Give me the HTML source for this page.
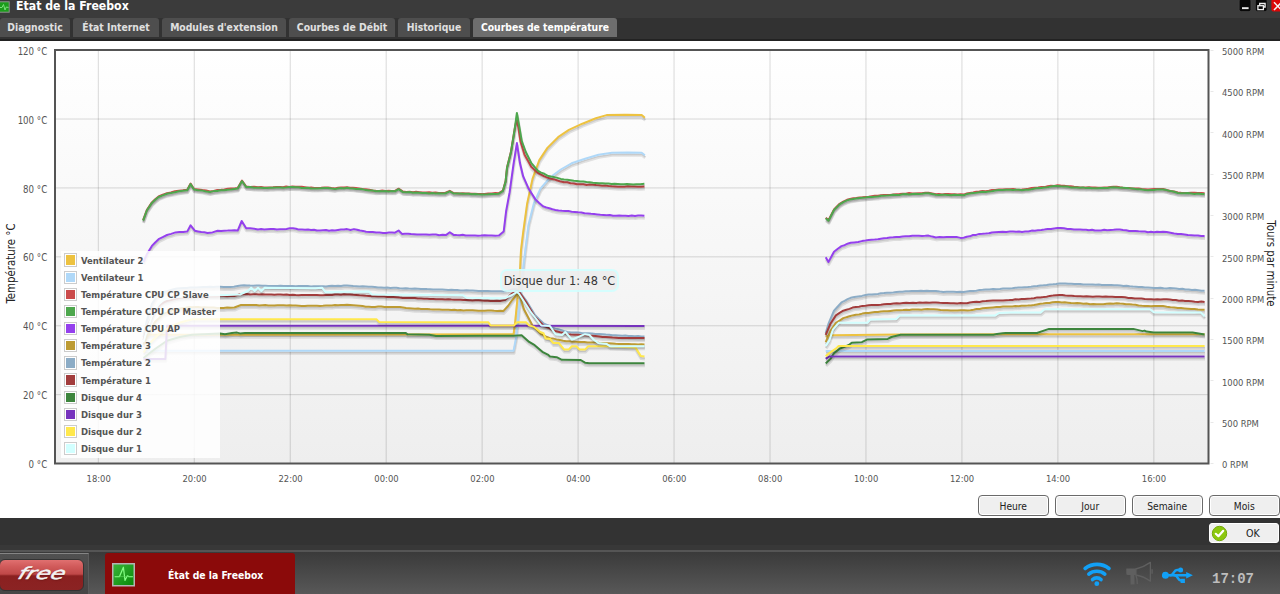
<!DOCTYPE html>
<html lang="fr">
<head>
<meta charset="utf-8">
<title>État de la Freebox</title>
<style>
html,body{margin:0;padding:0;}
body{width:1280px;height:594px;overflow:hidden;position:relative;background:#333;font-family:"Liberation Sans","DejaVu Sans",sans-serif;font-size:11px;}
.abs{position:absolute;}
#titlebar{left:0;top:0;width:1280px;height:18px;background:#3b3b3b;}
#title{left:16px;top:-2px;color:#fff;font-family:"DejaVu Sans Condensed","Liberation Sans",sans-serif;font-weight:bold;font-size:12.2px;line-height:16px;white-space:nowrap;}
#tabbar{left:0;top:18px;width:1280px;height:23px;background:#323232;border-bottom:2px solid #222;box-sizing:border-box;}
.tab{position:absolute;top:18px;height:19px;background:#4e4e4e;color:#e0e0e0;font-family:"DejaVu Sans Condensed","Liberation Sans",sans-serif;font-weight:bold;font-size:10.3px;line-height:18px;text-align:center;border-radius:3px 3px 0 0;white-space:nowrap;}
.tab.on{background:#6e6e6e;color:#fff;}
#content{left:0;top:41px;width:1280px;height:477px;background:#fff;}
#chart{position:absolute;left:0;top:40px;}
#legend{left:61px;top:251px;width:159px;height:207px;background:rgba(255,255,255,0.85);}
#legend table{position:absolute;left:1px;top:0.5px;border-collapse:separate;border-spacing:0;font-family:"DejaVu Sans Condensed","Liberation Sans",sans-serif;font-size:9.45px;font-weight:bold;color:#545454;}
#legend td{padding:0;height:17.15px;vertical-align:middle;white-space:nowrap;}
#legend td.lc{width:17px;padding-left:2px;}
.sw{border:1px solid #ccc;padding:1px;width:9.4px;height:9.4px;background:#fff;}
.sw div{width:9.4px;height:9.4px;}
#tip{left:499.7px;top:268.8px;width:115.5px;height:19.5px;border:2px solid #d2ffff;border-radius:7px;background:#eee;opacity:0.9;color:#222;font-family:"DejaVu Sans Condensed","Liberation Sans",sans-serif;font-size:12.6px;line-height:19.5px;text-align:center;white-space:nowrap;}
.btn{position:absolute;top:495px;height:19px;width:69.5px;border:1px solid #6a6a6a;border-radius:4px;background:#efefef;box-shadow:inset 0 0 0 1px #fff;color:#222;font-family:"DejaVu Sans Condensed","Liberation Sans",sans-serif;font-size:10.2px;line-height:21px;text-align:center;}
#ok{left:1209px;top:523px;width:68px;height:18px;border:1px solid #fff;border-radius:3px;background:#efefef;color:#222;font-family:"DejaVu Sans Condensed","Liberation Sans",sans-serif;font-size:10.6px;line-height:19.5px;}
#sep{left:0;top:550px;width:1280px;height:1.5px;background:#555;}
#taskbar{left:0;top:552px;width:1280px;height:42px;background:linear-gradient(#3a3a3a,#585858);}
#start{left:0;top:553px;width:89px;height:41px;background:linear-gradient(#505050,#464646);border-top:1px solid #858585;border-right:1.5px solid #5c5c5c;box-sizing:border-box;}
#pill{left:-1px;top:558.5px;width:82.5px;height:30px;border:1.5px solid #333;border-radius:6px;background:linear-gradient(#e07070 0%,#d25c5c 20%,#c04848 47%,#8a2020 53%,#8b2323 100%);box-sizing:content-box;}
#free{left:22px;top:559px;width:40px;height:30px;color:#f4f4f4;font-family:"DejaVu Sans","Liberation Sans",sans-serif;font-style:italic;font-weight:normal;font-size:16.5px;line-height:29px;text-align:center;transform:scaleX(1.42) skewX(-14deg);-webkit-text-stroke:0.45px #f4f4f4;text-shadow:0.5px 1px 1px rgba(60,0,0,.55);}
#task{left:105px;top:553px;width:190px;height:41px;background:#8b0a0a;border-radius:3px 3px 0 0;}
#tasktxt{left:168px;top:567px;color:#fff;font-family:"DejaVu Sans Condensed","Liberation Sans",sans-serif;font-weight:bold;font-size:10.3px;line-height:16px;white-space:nowrap;}
#clock{left:1212px;top:569.5px;color:#bdbdbd;font-family:"Liberation Mono",monospace;font-weight:bold;font-size:14px;line-height:18px;}
</style>
</head>
<body>
<div id="titlebar" class="abs"></div>
<svg class="abs" style="left:0;top:1px" width="11" height="12" viewBox="0 0 11 12"><rect x="-15" y="0.8" width="24.2" height="10.4" fill="#1b9c1b" stroke="#8f8f8f" stroke-width="1"/><path d="M-2 6.5 L2 6.5 L3.5 3.5 L5 9 L6.3 6 L8.5 6.5" stroke="#7be07b" stroke-width="1" fill="none"/></svg>
<div id="title" class="abs">État de la Freebox</div>
<svg class="abs" style="left:1238px;top:0" width="42" height="13" viewBox="0 0 42 13">
<rect x="1.2" y="-1" width="11.7" height="12.6" rx="2" fill="#080808" stroke="#4a4a4a" stroke-width="0.6"/><rect x="4" y="7.2" width="6.6" height="1.9" fill="#e8e8e8"/>
<rect x="17.4" y="-1" width="11.7" height="12.6" rx="2" fill="#080808" stroke="#4a4a4a" stroke-width="0.6"/><path d="M21.7 5.2 V3.5 H27.1 V7 H25.8" stroke="#f0f0f0" stroke-width="1.3" fill="none"/><rect x="19.9" y="5.7" width="5.5" height="3.9" stroke="#f0f0f0" stroke-width="1.3" fill="none"/>
<rect x="33.4" y="-1" width="12" height="12.6" rx="2" fill="#dc0808"/><path d="M36 2.3 L43.5 10 M43.5 2.3 L36 10" stroke="#f4f4f4" stroke-width="1.5"/>
</svg>
<div id="tabbar" class="abs"></div>
<div class="tab" style="left:0;width:70px">Diagnostic</div>
<div class="tab" style="left:73px;width:86px">État Internet</div>
<div class="tab" style="left:162px;width:124px">Modules d'extension</div>
<div class="tab" style="left:289px;width:106px">Courbes de Débit</div>
<div class="tab" style="left:398px;width:72px">Historique</div>
<div class="tab on" style="left:473px;width:144px">Courbes de température</div>
<div id="content" class="abs"></div>
<svg id="chart" width="1280" height="478" viewBox="0 40 1280 478">
<defs><linearGradient id="pbg" x1="0" y1="0" x2="0" y2="1"><stop offset="0" stop-color="#ffffff"/><stop offset="1" stop-color="#eeeeee"/></linearGradient></defs>
<rect x="55" y="50" width="1153.5" height="413.5" fill="url(#pbg)"/>
<path d="M98.30 50 V463.5 M194.26 50 V463.5 M290.22 50 V463.5 M386.18 50 V463.5 M482.14 50 V463.5 M578.10 50 V463.5 M674.06 50 V463.5 M770.02 50 V463.5 M865.98 50 V463.5 M961.94 50 V463.5 M1057.90 50 V463.5 M1153.86 50 V463.5 M55 394.68 H1208.5 M55 325.77 H1208.5 M55 256.85 H1208.5 M55 187.93 H1208.5 M55 119.02 H1208.5" stroke="#000" stroke-opacity="0.15" stroke-width="1" fill="none"/>
<path d="M1210.5 463.5 h3 M1210.5 422.5 h3 M1210.5 380.5 h3 M1210.5 339.5 h3 M1210.5 298.5 h3 M1210.5 256.5 h3 M1210.5 215.5 h3 M1210.5 174.5 h3 M1210.5 132.5 h3 M1210.5 91.5 h3 M1210.5 50.5 h3" stroke="#000" stroke-opacity="0.09" stroke-width="1" fill="none"/>
<g fill="none" stroke-linejoin="round" stroke-linecap="butt">
<path d="M143.9 338.1 L150.4 337.3 L514.0 336.7 L515.7 323.0 L518.2 297.5 L519.8 285.3 L521.4 252.5 L523.5 235.3 L527.6 205.7 L532.9 181.4 L539.7 162.6 L547.8 150.4 L558.5 139.7 L569.3 132.4 L582.8 126.2 L596.3 120.8 L607.0 117.6 L625.9 117.3 L642.1 117.6 L645.3 120.3 M826.1 339.0 L832.6 337.7 L899.3 336.9 L1010.4 336.8 L1205.0 336.8" stroke="#000" stroke-opacity="0.1" stroke-width="3"/>
<path d="M143.8 337.3 L150.3 336.5 L513.9 335.9 L515.6 322.2 L518.1 296.7 L519.7 284.5 L521.3 251.7 L523.4 234.5 L527.5 204.9 L532.8 180.6 L539.6 161.8 L547.7 149.6 L558.4 138.9 L569.2 131.6 L582.7 125.4 L596.2 120.0 L606.9 116.8 L625.8 116.5 L642.0 116.8 L645.2 119.5 M826.0 338.2 L832.5 336.9 L899.2 336.1 L1010.3 336.0 L1204.9 336.0" stroke="#000" stroke-opacity="0.1" stroke-width="1.5"/>
<path d="M143.5 335.6 L150.0 334.8 L513.6 334.2 L515.3 320.5 L517.8 295.0 L519.4 282.8 L521.0 250.0 L523.1 232.8 L527.2 203.2 L532.5 178.9 L539.3 160.1 L547.4 147.9 L558.1 137.2 L568.9 129.9 L582.4 123.7 L595.9 118.3 L606.6 115.1 L625.5 114.8 L641.7 115.1 L644.9 117.8 M825.7 336.5 L832.2 335.2 L898.9 334.4 L1010.0 334.3 L1204.6 334.3" stroke="#edc240" stroke-width="2"/>
<path d="M143.9 353.3 L514.0 353.2 L516.5 340.0 L520.9 296.3 L524.2 265.5 L525.7 252.5 L528.9 227.2 L534.3 205.7 L541.0 190.9 L550.4 180.1 L561.2 172.0 L572.0 165.8 L585.5 161.2 L598.9 157.2 L612.4 155.3 L628.6 155.0 L642.1 155.3 L645.3 157.7 M826.1 353.4 L1205.0 353.4" stroke="#000" stroke-opacity="0.1" stroke-width="3"/>
<path d="M143.8 352.5 L513.9 352.4 L516.4 339.2 L520.8 295.5 L524.1 264.7 L525.6 251.7 L528.8 226.4 L534.2 204.9 L540.9 190.1 L550.3 179.3 L561.1 171.2 L571.9 165.0 L585.4 160.4 L598.8 156.4 L612.3 154.5 L628.5 154.2 L642.0 154.5 L645.2 156.9 M826.0 352.6 L1204.9 352.6" stroke="#000" stroke-opacity="0.1" stroke-width="1.5"/>
<path d="M143.5 350.8 L513.6 350.7 L516.1 337.5 L520.5 293.8 L523.8 263.0 L525.3 250.0 L528.5 224.7 L533.9 203.2 L540.6 188.4 L550.0 177.6 L560.8 169.5 L571.6 163.3 L585.1 158.7 L598.5 154.7 L612.0 152.8 L628.2 152.5 L641.7 152.8 L644.9 155.2 M825.7 350.9 L1204.6 350.9" stroke="#afd8f8" stroke-width="2"/>
<path d="M143.5 222.6 L147.2 212.5 L152.3 204.9 L155.7 201.8 L159.0 199.0 L163.2 197.1 L167.4 195.7 L171.4 194.9 L175.3 193.7 L179.2 193.2 L183.4 192.7 L187.6 192.3 L191.0 186.1 L194.4 191.5 L198.6 191.9 L202.8 192.6 L206.6 193.0 L210.4 194.0 L214.1 193.4 L217.8 192.5 L221.4 192.3 L224.8 191.9 L228.1 191.3 L231.5 191.0 L234.8 190.8 L238.1 190.6 L242.4 183.0 L246.6 189.0 L250.6 189.5 L254.5 189.2 L258.4 189.8 L261.4 189.6 L264.4 189.9 L267.4 190.1 L270.4 189.8 L273.4 189.8 L276.9 189.5 L280.4 189.5 L283.5 189.7 L286.6 189.0 L289.7 189.5 L292.8 189.1 L295.9 189.2 L299.1 189.1 L302.2 189.3 L305.4 189.6 L308.5 190.2 L311.7 189.9 L314.8 190.4 L318.2 190.3 L321.6 190.3 L325.0 190.0 L328.4 190.0 L331.9 190.4 L335.4 190.9 L338.4 190.3 L341.4 190.0 L344.4 189.8 L347.4 189.8 L350.4 190.2 L353.4 190.3 L356.4 190.5 L359.4 190.9 L362.8 191.4 L366.2 191.8 L369.6 192.2 L373.0 193.0 L376.4 193.3 L379.6 193.4 L382.8 193.1 L385.9 193.3 L389.1 193.3 L392.3 193.5 L395.4 193.3 L399.0 191.2 L403.4 194.1 L406.7 194.4 L410.0 194.2 L413.3 194.8 L416.6 194.3 L419.9 194.6 L423.1 195.0 L426.4 195.0 L429.6 194.8 L432.8 195.1 L435.9 194.9 L439.1 195.4 L442.3 195.6 L445.4 195.5 L450.2 193.3 L454.0 195.5 L457.1 195.6 L460.1 195.9 L463.2 195.6 L466.2 196.0 L469.3 196.0 L472.3 196.1 L475.3 196.1 L478.4 196.5 L481.4 196.4 L485.0 196.5 L488.6 196.1 L492.2 196.1 L495.8 195.5 L499.3 195.7 L503.3 193.0 L506.0 183.6 L507.4 170.0 L511.4 154.0 L514.9 132.4 L517.3 120.8 L520.8 143.7 L524.9 157.2 L528.3 163.2 L531.6 169.3 L535.0 172.5 L538.4 175.5 L541.6 177.1 L544.7 178.9 L547.8 180.1 L551.2 181.3 L554.5 181.9 L557.9 183.0 L561.2 184.1 L564.5 184.7 L567.7 184.8 L571.0 185.7 L574.2 186.0 L577.4 186.8 L580.6 186.6 L583.7 186.7 L586.9 187.3 L590.0 187.0 L593.2 187.3 L596.3 187.6 L599.5 187.7 L602.6 188.3 L605.7 188.0 L608.9 188.5 L612.0 188.8 L615.1 189.0 L618.4 189.2 L621.7 189.2 L625.0 189.2 L628.3 188.8 L631.6 188.9 L634.9 188.9 L638.2 189.2 L641.5 189.3 L644.8 189.0 M826.1 220.2 L828.9 222.6 L834.4 211.9 L840.0 206.3 L843.7 204.0 L847.4 202.3 L850.5 201.4 L853.6 200.8 L856.7 200.4 L859.8 199.9 L862.9 199.8 L866.0 199.5 L869.1 199.2 L872.2 198.7 L875.2 198.2 L878.3 198.1 L881.4 197.8 L884.4 197.6 L887.5 197.4 L890.6 197.4 L893.7 197.0 L896.8 196.6 L899.9 196.5 L903.0 196.2 L906.3 196.2 L909.5 195.6 L912.7 196.1 L916.0 195.9 L919.2 195.8 L922.5 195.6 L925.7 195.2 L928.9 195.2 L932.6 195.8 L936.3 196.7 L939.4 196.4 L942.5 196.8 L945.6 196.5 L948.7 196.5 L951.8 196.7 L954.9 196.7 L958.0 196.9 L961.0 196.7 L964.1 197.1 L967.2 196.0 L970.3 195.4 L973.4 194.9 L976.6 194.2 L979.8 194.1 L982.9 193.5 L986.1 193.8 L989.3 193.2 L992.5 192.6 L995.6 192.5 L999.3 192.1 L1003.0 192.0 L1006.7 191.8 L1010.4 191.7 L1013.4 191.5 L1016.4 192.1 L1019.4 192.3 L1022.4 192.1 L1025.7 191.6 L1028.9 191.3 L1032.1 190.6 L1035.3 190.2 L1038.5 190.0 L1041.7 189.6 L1045.0 189.6 L1048.2 188.7 L1051.4 188.2 L1054.6 188.5 L1057.8 187.8 L1061.2 188.1 L1064.5 188.1 L1067.8 188.7 L1071.1 188.6 L1074.4 189.3 L1077.4 189.4 L1080.4 189.8 L1083.4 189.9 L1086.4 189.8 L1089.4 189.7 L1092.4 189.8 L1095.4 189.8 L1098.4 190.2 L1101.6 190.2 L1104.7 189.9 L1107.8 189.9 L1110.9 189.4 L1114.0 189.2 L1117.1 189.3 L1120.3 189.8 L1123.4 190.2 L1126.5 190.3 L1129.7 190.6 L1132.8 190.9 L1135.9 191.1 L1139.0 191.0 L1142.2 191.5 L1145.3 191.7 L1148.4 192.1 L1151.4 191.6 L1154.4 191.5 L1157.4 191.5 L1160.4 191.4 L1163.4 191.5 L1167.1 192.4 L1170.8 193.5 L1174.5 194.0 L1178.2 194.9 L1181.6 195.3 L1184.9 195.4 L1188.3 195.5 L1191.6 195.2 L1195.0 195.2 L1198.3 195.3 L1201.7 195.4 L1205.0 195.8" stroke="#000" stroke-opacity="0.1" stroke-width="3"/>
<path d="M143.4 221.8 L147.1 211.7 L152.2 204.1 L155.6 201.1 L158.9 198.2 L163.1 196.3 L167.3 194.9 L171.2 194.2 L175.2 193.0 L179.1 192.4 L183.3 192.0 L187.5 191.5 L190.9 185.3 L194.3 190.7 L198.5 191.2 L202.7 191.8 L206.5 192.2 L210.3 193.2 L214.0 192.7 L217.6 191.8 L221.3 191.5 L224.6 191.1 L228.0 190.5 L231.3 190.2 L234.7 190.1 L238.0 189.8 L242.3 182.2 L246.5 188.2 L250.4 188.7 L254.4 188.5 L258.3 189.0 L261.3 188.8 L264.3 189.1 L267.3 189.3 L270.3 189.1 L273.3 189.0 L276.8 188.8 L280.3 188.7 L283.4 189.0 L286.5 188.3 L289.6 188.8 L292.7 188.3 L295.8 188.4 L299.0 188.4 L302.1 188.6 L305.3 188.9 L308.4 189.4 L311.6 189.2 L314.7 189.6 L318.1 189.6 L321.5 189.5 L324.9 189.2 L328.3 189.2 L331.8 189.7 L335.3 190.1 L338.3 189.5 L341.3 189.3 L344.3 189.1 L347.3 189.0 L350.3 189.4 L353.3 189.5 L356.3 189.7 L359.3 190.1 L362.7 190.7 L366.1 191.1 L369.5 191.4 L372.9 192.2 L376.3 192.5 L379.5 192.7 L382.6 192.3 L385.8 192.6 L389.0 192.5 L392.1 192.8 L395.3 192.5 L398.9 190.4 L403.3 193.3 L406.6 193.6 L409.9 193.4 L413.2 194.0 L416.4 193.6 L419.7 193.9 L423.0 194.3 L426.3 194.2 L429.5 194.1 L432.6 194.4 L435.8 194.2 L439.0 194.7 L442.1 194.8 L445.3 194.7 L450.1 192.5 L453.9 194.7 L456.9 194.9 L460.0 195.2 L463.0 194.9 L466.1 195.3 L469.1 195.3 L472.2 195.4 L475.2 195.4 L478.3 195.8 L481.3 195.6 L484.9 195.8 L488.5 195.3 L492.0 195.3 L495.6 194.8 L499.2 194.9 L503.2 192.2 L505.9 182.8 L507.3 169.2 L511.3 153.2 L514.8 131.6 L517.2 120.0 L520.7 142.9 L524.8 156.4 L528.2 162.5 L531.5 168.5 L534.9 171.8 L538.3 174.7 L541.4 176.4 L544.6 178.1 L547.7 179.3 L551.1 180.5 L554.4 181.2 L557.8 182.2 L561.1 183.3 L564.3 184.0 L567.6 184.1 L570.8 184.9 L574.1 185.3 L577.3 186.0 L580.5 185.9 L583.6 186.0 L586.8 186.6 L589.9 186.3 L593.1 186.5 L596.2 186.8 L599.3 187.0 L602.5 187.6 L605.6 187.2 L608.7 187.7 L611.9 188.0 L615.0 188.2 L618.3 188.5 L621.6 188.4 L624.9 188.5 L628.2 188.1 L631.5 188.2 L634.8 188.1 L638.1 188.5 L641.4 188.5 L644.7 188.2 M826.0 219.4 L828.8 221.8 L834.3 211.1 L839.9 205.5 L843.6 203.3 L847.3 201.5 L850.4 200.7 L853.5 200.1 L856.6 199.6 L859.7 199.1 L862.8 199.0 L865.9 198.7 L869.0 198.5 L872.0 197.9 L875.1 197.4 L878.2 197.4 L881.2 197.0 L884.3 196.8 L887.4 196.6 L890.5 196.7 L893.6 196.3 L896.7 195.9 L899.8 195.7 L902.9 195.4 L906.1 195.4 L909.4 194.9 L912.6 195.3 L915.9 195.1 L919.1 195.1 L922.3 194.9 L925.6 194.5 L928.8 194.4 L932.5 195.1 L936.2 195.9 L939.3 195.7 L942.4 196.1 L945.5 195.8 L948.6 195.8 L951.6 195.9 L954.7 196.0 L957.8 196.1 L960.9 196.0 L964.0 196.3 L967.1 195.2 L970.2 194.6 L973.3 194.1 L976.5 193.5 L979.6 193.3 L982.8 192.8 L986.0 193.0 L989.2 192.5 L992.3 191.8 L995.5 191.7 L999.2 191.3 L1002.9 191.2 L1006.6 191.0 L1010.3 190.9 L1013.3 190.8 L1016.3 191.4 L1019.3 191.6 L1022.3 191.3 L1025.5 190.9 L1028.7 190.5 L1032.0 189.9 L1035.2 189.5 L1038.4 189.3 L1041.6 188.8 L1044.8 188.8 L1048.0 188.0 L1051.3 187.5 L1054.5 187.7 L1057.7 187.0 L1061.0 187.3 L1064.3 187.4 L1067.7 188.0 L1071.0 187.9 L1074.3 188.5 L1077.3 188.7 L1080.3 189.1 L1083.3 189.1 L1086.3 189.1 L1089.3 188.9 L1092.3 189.1 L1095.3 189.1 L1098.3 189.4 L1101.4 189.5 L1104.5 189.1 L1107.7 189.2 L1110.8 188.7 L1113.9 188.5 L1117.0 188.5 L1120.1 189.0 L1123.3 189.4 L1126.4 189.6 L1129.5 189.9 L1132.7 190.1 L1135.8 190.4 L1138.9 190.3 L1142.0 190.8 L1145.2 190.9 L1148.3 191.3 L1151.3 190.9 L1154.3 190.8 L1157.3 190.8 L1160.3 190.7 L1163.3 190.7 L1167.0 191.7 L1170.7 192.7 L1174.4 193.2 L1178.1 194.1 L1181.5 194.5 L1184.8 194.7 L1188.2 194.8 L1191.5 194.5 L1194.9 194.5 L1198.2 194.6 L1201.6 194.7 L1204.9 195.0" stroke="#000" stroke-opacity="0.1" stroke-width="1.5"/>
<path d="M143.1 220.1 L146.8 210.0 L151.9 202.4 L155.2 199.3 L158.6 196.5 L162.8 194.6 L167.0 193.2 L170.9 192.5 L174.9 191.2 L178.8 190.7 L183.0 190.3 L187.2 189.8 L190.6 183.6 L194.0 189.0 L198.2 189.5 L202.4 190.1 L206.2 190.5 L210.0 191.5 L213.7 190.9 L217.3 190.0 L221.0 189.8 L224.3 189.4 L227.7 188.8 L231.0 188.5 L234.4 188.4 L237.7 188.1 L242.0 180.5 L246.2 186.5 L250.1 187.0 L254.1 186.8 L258.0 187.3 L261.0 187.1 L264.0 187.4 L267.0 187.6 L270.0 187.4 L273.0 187.3 L276.5 187.1 L280.0 187.0 L283.1 187.3 L286.2 186.6 L289.3 187.1 L292.4 186.6 L295.5 186.7 L298.6 186.7 L301.8 186.8 L304.9 187.2 L308.1 187.7 L311.2 187.5 L314.4 187.9 L317.8 187.9 L321.2 187.8 L324.6 187.5 L328.0 187.5 L331.5 188.0 L335.0 188.4 L338.0 187.8 L341.0 187.5 L344.0 187.4 L347.0 187.3 L350.0 187.7 L353.0 187.8 L356.0 188.0 L359.0 188.4 L362.4 188.9 L365.8 189.3 L369.2 189.7 L372.6 190.5 L376.0 190.8 L379.2 190.9 L382.3 190.6 L385.5 190.9 L388.7 190.8 L391.8 191.1 L395.0 190.8 L398.6 188.7 L403.0 191.6 L406.3 191.9 L409.6 191.7 L412.9 192.3 L416.1 191.8 L419.4 192.2 L422.7 192.6 L426.0 192.5 L429.2 192.3 L432.3 192.7 L435.5 192.4 L438.7 193.0 L441.8 193.1 L445.0 193.0 L449.8 190.8 L453.6 193.0 L456.6 193.2 L459.7 193.5 L462.7 193.2 L465.8 193.5 L468.8 193.6 L471.9 193.7 L474.9 193.7 L478.0 194.0 L481.0 193.9 L484.6 194.1 L488.2 193.6 L491.7 193.6 L495.3 193.0 L498.9 193.2 L502.9 190.5 L505.6 181.1 L507.0 167.5 L511.0 151.5 L514.5 129.9 L516.9 118.3 L520.4 141.2 L524.5 154.7 L527.9 160.8 L531.2 166.8 L534.6 170.0 L538.0 173.0 L541.1 174.6 L544.3 176.4 L547.4 177.6 L550.8 178.8 L554.1 179.4 L557.4 180.5 L560.8 181.6 L564.0 182.3 L567.3 182.3 L570.5 183.2 L573.8 183.5 L577.0 184.3 L580.1 184.2 L583.3 184.3 L586.5 184.9 L589.6 184.6 L592.8 184.8 L595.9 185.1 L599.0 185.3 L602.2 185.8 L605.3 185.5 L608.4 186.0 L611.6 186.3 L614.7 186.5 L618.0 186.8 L621.3 186.7 L624.6 186.8 L627.9 186.3 L631.2 186.4 L634.5 186.4 L637.8 186.8 L641.1 186.8 L644.4 186.5 M825.7 217.7 L828.5 220.1 L834.0 209.4 L839.6 203.8 L843.3 201.6 L847.0 199.8 L850.1 198.9 L853.2 198.3 L856.3 197.9 L859.4 197.4 L862.5 197.3 L865.6 197.0 L868.7 196.7 L871.7 196.2 L874.8 195.7 L877.9 195.7 L880.9 195.3 L884.0 195.1 L887.1 194.9 L890.2 195.0 L893.3 194.5 L896.4 194.2 L899.5 194.0 L902.6 193.7 L905.8 193.7 L909.1 193.1 L912.3 193.6 L915.5 193.4 L918.8 193.3 L922.0 193.2 L925.3 192.7 L928.5 192.7 L932.2 193.4 L935.9 194.2 L939.0 194.0 L942.1 194.4 L945.2 194.0 L948.3 194.1 L951.3 194.2 L954.4 194.2 L957.5 194.4 L960.6 194.2 L963.7 194.6 L966.8 193.5 L969.9 192.9 L973.0 192.4 L976.2 191.8 L979.3 191.6 L982.5 191.0 L985.7 191.3 L988.9 190.8 L992.0 190.1 L995.2 190.0 L998.9 189.6 L1002.6 189.5 L1006.3 189.3 L1010.0 189.2 L1013.0 189.0 L1016.0 189.6 L1019.0 189.8 L1022.0 189.6 L1025.2 189.2 L1028.4 188.8 L1031.7 188.1 L1034.9 187.8 L1038.1 187.5 L1041.3 187.1 L1044.5 187.1 L1047.7 186.2 L1051.0 185.7 L1054.2 186.0 L1057.4 185.3 L1060.7 185.6 L1064.0 185.7 L1067.4 186.2 L1070.7 186.2 L1074.0 186.8 L1077.0 186.9 L1080.0 187.4 L1083.0 187.4 L1086.0 187.4 L1089.0 187.2 L1092.0 187.4 L1095.0 187.4 L1098.0 187.7 L1101.1 187.7 L1104.2 187.4 L1107.3 187.4 L1110.5 187.0 L1113.6 186.8 L1116.7 186.8 L1119.8 187.3 L1123.0 187.7 L1126.1 187.9 L1129.2 188.1 L1132.3 188.4 L1135.5 188.6 L1138.6 188.6 L1141.7 189.1 L1144.9 189.2 L1148.0 189.6 L1151.0 189.2 L1154.0 189.0 L1157.0 189.1 L1160.0 189.0 L1163.0 189.0 L1166.7 190.0 L1170.4 191.0 L1174.1 191.5 L1177.8 192.4 L1181.1 192.8 L1184.5 193.0 L1187.8 193.1 L1191.2 192.8 L1194.5 192.8 L1197.9 192.9 L1201.2 193.0 L1204.6 193.3" stroke="#cb4b4b" stroke-width="2"/>
<path d="M143.5 223.1 L147.2 213.0 L152.3 205.4 L155.7 202.2 L159.0 199.5 L163.2 197.9 L167.4 196.2 L171.4 195.6 L175.3 194.7 L179.2 193.7 L183.4 193.2 L187.6 192.8 L191.0 186.6 L194.4 192.0 L198.6 192.6 L202.8 193.1 L206.6 194.0 L210.4 194.5 L214.1 193.6 L217.8 193.4 L221.4 192.8 L224.8 192.7 L228.1 192.3 L231.5 191.9 L234.8 191.4 L238.1 191.1 L242.4 183.5 L246.6 189.5 L250.6 189.5 L254.5 190.2 L258.4 190.3 L261.4 190.1 L264.4 190.5 L267.4 190.6 L270.4 190.2 L273.4 190.3 L276.9 190.0 L280.4 190.0 L283.5 190.2 L286.6 190.0 L289.7 189.6 L292.8 189.5 L295.9 189.7 L299.1 189.6 L302.2 190.3 L305.4 190.5 L308.5 190.2 L311.7 190.9 L314.8 190.9 L318.2 191.1 L321.6 190.8 L325.0 190.5 L328.4 190.5 L331.9 190.9 L335.4 191.4 L338.4 190.8 L341.4 190.5 L344.4 190.9 L347.4 190.3 L350.4 190.6 L353.4 190.8 L356.4 191.4 L359.4 191.4 L362.8 191.8 L366.2 192.6 L369.6 193.0 L373.0 193.1 L376.4 193.8 L379.6 193.6 L382.8 193.6 L385.9 193.6 L389.1 193.8 L392.3 193.6 L395.4 193.8 L399.0 191.7 L403.4 194.6 L406.7 194.6 L410.0 194.6 L413.3 195.2 L416.6 195.0 L419.9 195.2 L423.1 195.4 L426.4 195.5 L429.6 195.8 L432.8 195.6 L435.9 196.0 L439.1 195.8 L442.3 195.9 L445.4 196.0 L450.2 193.8 L454.0 196.0 L457.1 196.1 L460.1 195.8 L463.2 196.2 L466.2 196.1 L469.3 196.1 L472.3 196.8 L475.3 196.4 L478.4 196.7 L481.4 196.9 L485.0 196.9 L488.6 196.6 L492.2 196.3 L495.8 196.3 L499.3 196.2 L503.3 193.5 L506.0 184.1 L507.4 170.5 L511.4 154.5 L514.9 132.9 L517.3 115.4 L519.4 127.5 L522.2 143.7 L526.2 154.5 L531.6 165.3 L535.0 169.3 L538.4 173.3 L541.6 175.1 L544.7 176.3 L547.8 178.2 L551.2 179.0 L554.5 179.6 L557.9 180.4 L561.2 181.4 L564.5 182.0 L567.7 182.2 L571.0 182.7 L574.2 183.2 L577.4 183.5 L580.6 184.1 L583.7 184.1 L586.9 184.5 L590.0 184.8 L593.2 185.1 L596.3 185.5 L599.5 185.7 L602.6 185.7 L605.7 185.9 L608.9 186.0 L612.0 186.4 L615.1 186.3 L618.2 186.5 L621.3 186.7 L624.4 186.8 L627.5 186.4 L630.6 186.7 L633.6 187.0 L636.7 186.8 L640.8 186.8 L644.8 186.3 M826.1 220.8 L828.9 223.2 L834.4 212.5 L840.0 206.9 L843.7 204.6 L847.4 202.9 L850.5 202.0 L853.6 201.6 L856.7 201.0 L859.8 200.4 L862.9 200.2 L866.0 200.1 L869.1 199.4 L872.2 199.5 L875.2 199.3 L878.3 199.1 L881.4 198.2 L884.4 198.2 L887.5 198.1 L890.6 197.8 L893.7 197.2 L896.8 197.5 L899.9 197.3 L903.0 196.8 L906.3 196.4 L909.5 196.8 L912.7 196.3 L916.0 196.3 L919.2 196.5 L922.5 196.2 L925.7 195.7 L928.9 195.8 L932.6 196.5 L936.3 197.3 L939.4 197.3 L942.5 197.2 L945.6 197.2 L948.7 197.3 L951.8 197.6 L954.9 197.2 L958.0 197.6 L961.0 197.6 L964.1 197.7 L967.2 196.6 L970.3 196.1 L973.4 195.5 L976.6 195.2 L979.8 194.8 L982.9 194.1 L986.1 194.4 L989.3 193.9 L992.5 193.7 L995.6 193.1 L999.3 192.6 L1003.0 192.5 L1006.7 192.1 L1010.4 192.3 L1013.4 192.6 L1016.4 192.3 L1019.4 192.3 L1022.4 192.7 L1025.7 192.2 L1028.9 192.2 L1032.1 191.7 L1035.3 190.9 L1038.5 190.5 L1041.7 190.6 L1045.0 190.0 L1048.2 189.7 L1051.4 188.9 L1054.6 188.4 L1057.8 188.4 L1061.2 188.8 L1064.5 188.9 L1067.8 189.0 L1071.1 189.9 L1074.4 189.9 L1077.4 190.1 L1080.4 190.3 L1083.4 189.9 L1086.4 190.6 L1089.4 190.1 L1092.4 190.8 L1095.4 190.6 L1098.4 190.8 L1101.6 190.5 L1104.7 190.5 L1107.8 190.6 L1110.9 190.0 L1114.0 189.8 L1117.1 189.9 L1120.3 190.2 L1123.4 190.2 L1126.5 190.4 L1129.7 190.7 L1132.8 190.9 L1135.9 191.3 L1139.0 191.7 L1142.2 192.0 L1145.3 192.6 L1148.4 192.7 L1151.4 192.4 L1154.4 192.4 L1157.4 192.1 L1160.4 192.1 L1163.4 192.1 L1167.1 192.6 L1170.8 193.6 L1174.5 194.3 L1178.2 195.5 L1181.6 195.7 L1184.9 195.7 L1188.3 195.6 L1191.6 195.9 L1195.0 196.3 L1198.3 195.9 L1201.7 196.5 L1205.0 196.4" stroke="#000" stroke-opacity="0.1" stroke-width="3"/>
<path d="M143.4 222.3 L147.1 212.2 L152.2 204.6 L155.6 201.5 L158.9 198.7 L163.1 197.2 L167.3 195.4 L171.2 194.9 L175.2 194.0 L179.1 192.9 L183.3 192.5 L187.5 192.0 L190.9 185.8 L194.3 191.2 L198.5 191.9 L202.7 192.3 L206.5 193.2 L210.3 193.7 L214.0 192.9 L217.6 192.7 L221.3 192.0 L224.6 192.0 L228.0 191.5 L231.3 191.2 L234.7 190.6 L238.0 190.3 L242.3 182.7 L246.5 188.7 L250.4 188.8 L254.4 189.5 L258.3 189.5 L261.3 189.4 L264.3 189.7 L267.3 189.9 L270.3 189.5 L273.3 189.5 L276.8 189.3 L280.3 189.2 L283.4 189.5 L286.5 189.3 L289.6 188.8 L292.7 188.7 L295.8 188.9 L299.0 188.9 L302.1 189.6 L305.3 189.7 L308.4 189.5 L311.6 190.2 L314.7 190.1 L318.1 190.4 L321.5 190.0 L324.9 189.7 L328.3 189.7 L331.8 190.2 L335.3 190.6 L338.3 190.1 L341.3 189.7 L344.3 190.1 L347.3 189.5 L350.3 189.9 L353.3 190.1 L356.3 190.7 L359.3 190.6 L362.7 191.1 L366.1 191.8 L369.5 192.3 L372.9 192.3 L376.3 193.0 L379.5 192.8 L382.6 192.9 L385.8 192.8 L389.0 193.1 L392.1 192.9 L395.3 193.0 L398.9 190.9 L403.3 193.8 L406.6 193.9 L409.9 193.8 L413.2 194.5 L416.4 194.2 L419.7 194.4 L423.0 194.7 L426.3 194.7 L429.5 195.1 L432.6 194.8 L435.8 195.3 L439.0 195.1 L442.1 195.2 L445.3 195.2 L450.1 193.0 L453.9 195.2 L456.9 195.3 L460.0 195.1 L463.0 195.5 L466.1 195.4 L469.1 195.4 L472.2 196.0 L475.2 195.7 L478.3 196.0 L481.3 196.1 L484.9 196.1 L488.5 195.9 L492.0 195.6 L495.6 195.6 L499.2 195.4 L503.2 192.7 L505.9 183.3 L507.3 169.7 L511.3 153.7 L514.8 132.1 L517.2 114.6 L519.3 126.7 L522.1 142.9 L526.1 153.7 L531.5 164.5 L534.9 168.6 L538.3 172.5 L541.4 174.4 L544.6 175.5 L547.7 177.4 L551.1 178.3 L554.4 178.8 L557.8 179.7 L561.1 180.6 L564.3 181.2 L567.6 181.5 L570.8 181.9 L574.1 182.5 L577.3 182.7 L580.5 183.3 L583.6 183.4 L586.8 183.8 L589.9 184.1 L593.1 184.4 L596.2 184.7 L599.3 185.0 L602.5 185.0 L605.6 185.1 L608.7 185.2 L611.9 185.7 L615.0 185.5 L618.1 185.7 L621.2 185.9 L624.3 186.0 L627.3 185.6 L630.4 185.9 L633.5 186.3 L636.6 186.0 L640.7 186.0 L644.7 185.5 M826.0 220.0 L828.8 222.4 L834.3 211.7 L839.9 206.1 L843.6 203.9 L847.3 202.1 L850.4 201.2 L853.5 200.8 L856.6 200.2 L859.7 199.6 L862.8 199.4 L865.9 199.3 L869.0 198.7 L872.0 198.8 L875.1 198.6 L878.2 198.3 L881.2 197.5 L884.3 197.4 L887.4 197.3 L890.5 197.1 L893.6 196.5 L896.7 196.8 L899.8 196.6 L902.9 196.0 L906.1 195.7 L909.4 196.1 L912.6 195.6 L915.9 195.5 L919.1 195.7 L922.3 195.5 L925.6 194.9 L928.8 195.0 L932.5 195.7 L936.2 196.5 L939.3 196.6 L942.4 196.5 L945.5 196.4 L948.6 196.6 L951.6 196.9 L954.7 196.5 L957.8 196.9 L960.9 196.8 L964.0 196.9 L967.1 195.9 L970.2 195.3 L973.3 194.7 L976.5 194.5 L979.6 194.0 L982.8 193.4 L986.0 193.7 L989.2 193.2 L992.3 193.0 L995.5 192.3 L999.2 191.8 L1002.9 191.8 L1006.6 191.4 L1010.3 191.5 L1013.3 191.8 L1016.3 191.6 L1019.3 191.6 L1022.3 191.9 L1025.5 191.5 L1028.7 191.4 L1032.0 191.0 L1035.2 190.2 L1038.4 189.7 L1041.6 189.9 L1044.8 189.2 L1048.0 188.9 L1051.3 188.1 L1054.5 187.7 L1057.7 187.6 L1061.0 188.1 L1064.3 188.2 L1067.7 188.2 L1071.0 189.1 L1074.3 189.1 L1077.3 189.3 L1080.3 189.6 L1083.3 189.2 L1086.3 189.8 L1089.3 189.4 L1092.3 190.1 L1095.3 189.9 L1098.3 190.0 L1101.4 189.8 L1104.5 189.8 L1107.7 189.9 L1110.8 189.3 L1113.9 189.0 L1117.0 189.1 L1120.1 189.4 L1123.3 189.5 L1126.4 189.7 L1129.5 190.0 L1132.7 190.2 L1135.8 190.6 L1138.9 191.0 L1142.0 191.2 L1145.2 191.8 L1148.3 191.9 L1151.3 191.7 L1154.3 191.7 L1157.3 191.3 L1160.3 191.3 L1163.3 191.3 L1167.0 191.8 L1170.7 192.8 L1174.4 193.5 L1178.1 194.7 L1181.5 195.0 L1184.8 195.0 L1188.2 194.8 L1191.5 195.2 L1194.9 195.6 L1198.2 195.1 L1201.6 195.7 L1204.9 195.6" stroke="#000" stroke-opacity="0.1" stroke-width="1.5"/>
<path d="M143.1 220.6 L146.8 210.5 L151.9 202.9 L155.2 199.7 L158.6 197.0 L162.8 195.4 L167.0 193.7 L170.9 193.1 L174.9 192.3 L178.8 191.2 L183.0 190.7 L187.2 190.3 L190.6 184.1 L194.0 189.5 L198.2 190.2 L202.4 190.6 L206.2 191.5 L210.0 192.0 L213.7 191.1 L217.3 191.0 L221.0 190.3 L224.3 190.2 L227.7 189.8 L231.0 189.5 L234.4 188.9 L237.7 188.6 L242.0 181.0 L246.2 187.0 L250.1 187.0 L254.1 187.7 L258.0 187.8 L261.0 187.7 L264.0 188.0 L267.0 188.1 L270.0 187.7 L273.0 187.8 L276.5 187.6 L280.0 187.5 L283.1 187.8 L286.2 187.5 L289.3 187.1 L292.4 187.0 L295.5 187.2 L298.6 187.2 L301.8 187.9 L304.9 188.0 L308.1 187.8 L311.2 188.4 L314.4 188.4 L317.8 188.6 L321.2 188.3 L324.6 188.0 L328.0 188.0 L331.5 188.5 L335.0 188.9 L338.0 188.4 L341.0 188.0 L344.0 188.4 L347.0 187.8 L350.0 188.2 L353.0 188.4 L356.0 188.9 L359.0 188.9 L362.4 189.3 L365.8 190.1 L369.2 190.6 L372.6 190.6 L376.0 191.3 L379.2 191.1 L382.3 191.2 L385.5 191.1 L388.7 191.4 L391.8 191.1 L395.0 191.3 L398.6 189.2 L403.0 192.1 L406.3 192.2 L409.6 192.1 L412.9 192.8 L416.1 192.5 L419.4 192.7 L422.7 192.9 L426.0 193.0 L429.2 193.4 L432.3 193.1 L435.5 193.5 L438.7 193.3 L441.8 193.4 L445.0 193.5 L449.8 191.3 L453.6 193.5 L456.6 193.6 L459.7 193.4 L462.7 193.8 L465.8 193.7 L468.8 193.7 L471.9 194.3 L474.9 194.0 L478.0 194.3 L481.0 194.4 L484.6 194.4 L488.2 194.2 L491.7 193.9 L495.3 193.9 L498.9 193.7 L502.9 191.0 L505.6 181.6 L507.0 168.0 L511.0 152.0 L514.5 130.4 L516.9 112.9 L519.0 125.0 L521.8 141.2 L525.8 152.0 L531.2 162.8 L534.6 166.8 L538.0 170.8 L541.1 172.6 L544.3 173.8 L547.4 175.7 L550.8 176.5 L554.1 177.1 L557.4 177.9 L560.8 178.9 L564.0 179.5 L567.3 179.7 L570.5 180.2 L573.8 180.8 L577.0 181.0 L580.1 181.6 L583.3 181.6 L586.5 182.1 L589.6 182.3 L592.8 182.7 L595.9 183.0 L599.0 183.3 L602.2 183.2 L605.3 183.4 L608.4 183.5 L611.6 184.0 L614.7 183.8 L617.8 184.0 L620.9 184.2 L624.0 184.3 L627.0 183.9 L630.1 184.2 L633.2 184.5 L636.3 184.3 L640.3 184.3 L644.4 183.8 M825.7 218.3 L828.5 220.7 L834.0 210.0 L839.6 204.4 L843.3 202.1 L847.0 200.4 L850.1 199.5 L853.2 199.1 L856.3 198.5 L859.4 197.9 L862.5 197.7 L865.6 197.6 L868.7 197.0 L871.7 197.1 L874.8 196.8 L877.9 196.6 L880.9 195.8 L884.0 195.7 L887.1 195.6 L890.2 195.3 L893.3 194.8 L896.4 195.0 L899.5 194.9 L902.6 194.3 L905.8 194.0 L909.1 194.4 L912.3 193.9 L915.5 193.8 L918.8 194.0 L922.0 193.8 L925.3 193.2 L928.5 193.3 L932.2 194.0 L935.9 194.8 L939.0 194.9 L942.1 194.8 L945.2 194.7 L948.3 194.9 L951.3 195.2 L954.4 194.7 L957.5 195.1 L960.6 195.1 L963.7 195.2 L966.8 194.1 L969.9 193.6 L973.0 193.0 L976.2 192.7 L979.3 192.3 L982.5 191.7 L985.7 192.0 L988.9 191.5 L992.0 191.3 L995.2 190.6 L998.9 190.1 L1002.6 190.0 L1006.3 189.7 L1010.0 189.8 L1013.0 190.1 L1016.0 189.8 L1019.0 189.8 L1022.0 190.2 L1025.2 189.8 L1028.4 189.7 L1031.7 189.3 L1034.9 188.5 L1038.1 188.0 L1041.3 188.1 L1044.5 187.5 L1047.7 187.2 L1051.0 186.4 L1054.2 186.0 L1057.4 185.9 L1060.7 186.3 L1064.0 186.4 L1067.4 186.5 L1070.7 187.4 L1074.0 187.4 L1077.0 187.6 L1080.0 187.8 L1083.0 187.4 L1086.0 188.1 L1089.0 187.7 L1092.0 188.3 L1095.0 188.2 L1098.0 188.3 L1101.1 188.0 L1104.2 188.0 L1107.3 188.1 L1110.5 187.5 L1113.6 187.3 L1116.7 187.4 L1119.8 187.7 L1123.0 187.8 L1126.1 188.0 L1129.2 188.3 L1132.3 188.5 L1135.5 188.9 L1138.6 189.2 L1141.7 189.5 L1144.9 190.1 L1148.0 190.2 L1151.0 189.9 L1154.0 190.0 L1157.0 189.6 L1160.0 189.6 L1163.0 189.6 L1166.7 190.1 L1170.4 191.1 L1174.1 191.8 L1177.8 193.0 L1181.1 193.3 L1184.5 193.3 L1187.8 193.1 L1191.2 193.4 L1194.5 193.9 L1197.9 193.4 L1201.2 194.0 L1204.6 193.9" stroke="#4da74d" stroke-width="2"/>
<path d="M143.9 264.5 L147.4 256.5 L152.3 248.4 L155.7 245.0 L159.0 241.7 L163.2 239.6 L167.4 237.5 L171.7 236.4 L175.9 234.9 L179.8 234.5 L183.7 234.3 L187.6 234.1 L191.0 227.8 L195.2 233.2 L198.4 233.8 L201.6 234.6 L204.8 234.7 L207.9 235.4 L212.9 234.9 L218.0 233.2 L221.4 233.3 L224.8 233.2 L228.1 233.1 L231.5 232.9 L234.9 232.8 L238.2 232.9 L242.1 223.5 L246.6 230.7 L250.6 230.8 L254.5 231.2 L258.4 231.9 L261.6 231.5 L264.7 232.0 L267.9 231.6 L271.0 231.6 L274.1 231.5 L277.3 232.0 L280.4 231.8 L283.7 231.7 L286.9 231.3 L290.2 230.8 L293.4 230.7 L296.4 231.2 L299.4 232.1 L302.4 232.0 L305.4 232.2 L308.4 232.0 L311.4 232.3 L314.4 232.3 L317.4 232.8 L320.4 232.9 L323.4 232.7 L326.4 232.6 L329.4 233.1 L332.4 232.8 L335.4 233.0 L338.4 232.5 L341.4 231.9 L344.4 231.8 L347.4 231.6 L350.9 232.5 L354.4 231.6 L357.4 232.2 L360.4 232.9 L363.4 233.4 L366.4 234.3 L369.8 234.5 L373.2 234.4 L376.6 234.8 L380.0 234.9 L383.4 235.5 L386.4 235.3 L389.4 235.0 L392.4 234.9 L395.4 235.2 L399.0 233.0 L402.4 236.4 L405.4 236.3 L408.4 236.3 L411.4 236.6 L414.4 236.6 L417.4 236.8 L420.4 236.8 L423.4 237.0 L426.4 236.9 L429.8 237.2 L433.1 237.0 L436.4 237.1 L439.7 237.7 L443.0 237.2 L446.3 237.6 L450.2 234.7 L454.0 237.4 L457.1 237.6 L460.1 237.6 L463.2 237.3 L466.2 237.9 L469.3 238.0 L472.3 237.9 L475.3 238.1 L478.4 238.2 L481.4 238.1 L485.0 237.8 L488.6 238.0 L492.2 238.0 L495.8 238.2 L499.3 238.0 L504.1 234.0 L506.5 213.8 L510.0 194.9 L514.1 165.3 L517.3 145.6 L520.3 165.3 L523.5 178.7 L528.9 190.9 L532.3 196.2 L535.6 201.6 L539.7 205.4 L543.7 208.9 L546.8 210.0 L549.8 210.7 L552.8 211.8 L555.8 212.4 L559.1 212.9 L562.3 213.3 L565.6 213.3 L568.8 213.6 L572.0 214.3 L575.3 214.3 L578.5 214.8 L581.8 214.9 L585.0 215.8 L588.2 215.9 L591.4 216.2 L594.5 216.6 L597.6 216.9 L600.8 217.3 L603.9 217.4 L607.0 217.8 L610.2 217.5 L613.3 218.1 L616.5 218.2 L619.6 218.1 L622.8 218.2 L625.9 218.3 L629.1 218.4 L632.2 218.0 L635.4 218.4 L638.5 218.1 L641.7 218.0 L644.8 218.3 M826.1 259.7 L828.9 264.4 L834.4 254.2 L838.2 251.2 L841.9 248.6 L845.0 247.6 L848.1 246.2 L851.1 245.3 L854.9 244.9 L858.6 244.5 L862.3 243.6 L866.0 243.1 L869.1 242.6 L872.2 242.3 L875.2 242.0 L878.3 241.7 L881.4 241.2 L884.4 240.8 L887.5 240.6 L890.6 239.9 L893.7 239.6 L896.8 239.4 L899.9 239.4 L903.0 239.0 L906.3 238.7 L909.5 238.8 L912.7 238.3 L916.0 238.2 L919.2 238.2 L922.5 238.4 L925.7 238.3 L928.9 238.1 L932.6 239.1 L936.3 239.9 L940.0 239.6 L943.7 239.6 L947.4 239.5 L951.1 239.4 L954.4 239.6 L957.6 239.5 L960.9 240.3 L964.1 240.3 L967.2 239.1 L970.3 238.7 L973.4 237.5 L976.6 237.4 L979.8 236.3 L982.9 236.2 L986.1 236.1 L989.3 235.8 L992.5 235.0 L995.6 234.7 L999.3 234.4 L1003.0 234.2 L1006.7 234.5 L1010.4 234.1 L1013.4 233.9 L1016.4 234.3 L1019.4 234.0 L1022.4 234.4 L1025.7 234.0 L1028.9 234.0 L1032.1 233.1 L1035.3 233.2 L1038.5 232.6 L1041.7 232.6 L1045.0 232.1 L1048.2 231.4 L1051.4 231.5 L1054.6 230.9 L1057.8 230.6 L1061.2 230.5 L1064.5 230.7 L1067.8 231.3 L1071.1 231.6 L1074.4 231.9 L1077.4 231.8 L1080.4 231.9 L1083.4 232.1 L1086.4 232.2 L1089.4 232.7 L1092.4 232.3 L1095.4 232.9 L1098.4 232.9 L1101.6 232.9 L1104.7 232.3 L1107.8 232.7 L1110.9 232.3 L1114.0 232.3 L1117.1 231.9 L1120.3 232.0 L1123.4 232.3 L1126.5 232.6 L1129.7 233.3 L1132.8 233.3 L1135.9 233.4 L1139.0 233.8 L1142.2 233.9 L1145.3 234.1 L1148.4 234.7 L1151.4 234.3 L1154.4 234.7 L1157.4 234.2 L1160.4 234.6 L1163.4 234.2 L1167.1 234.6 L1170.8 235.1 L1174.5 235.9 L1178.2 236.5 L1181.6 236.5 L1184.9 236.8 L1188.3 237.5 L1191.6 237.7 L1195.0 237.9 L1198.3 238.0 L1201.7 238.4 L1205.0 238.4" stroke="#000" stroke-opacity="0.1" stroke-width="3"/>
<path d="M143.8 263.7 L147.3 255.7 L152.2 247.6 L155.6 244.2 L158.9 240.9 L163.1 238.8 L167.3 236.7 L171.6 235.7 L175.8 234.1 L179.7 233.8 L183.6 233.6 L187.5 233.3 L190.9 227.0 L195.1 232.4 L198.3 233.1 L201.5 233.9 L204.6 234.0 L207.8 234.6 L212.8 234.1 L217.9 232.4 L221.3 232.6 L224.6 232.5 L228.0 232.4 L231.4 232.2 L234.7 232.1 L238.1 232.1 L242.0 222.7 L246.5 229.9 L250.4 230.0 L254.4 230.5 L258.3 231.1 L261.4 230.8 L264.6 231.3 L267.7 230.9 L270.9 230.8 L274.0 230.8 L277.2 231.3 L280.3 231.0 L283.6 231.0 L286.8 230.6 L290.1 230.0 L293.3 229.9 L296.3 230.4 L299.3 231.3 L302.3 231.3 L305.3 231.4 L308.3 231.3 L311.3 231.6 L314.3 231.5 L317.3 232.1 L320.3 232.2 L323.3 232.0 L326.3 231.8 L329.3 232.4 L332.3 232.0 L335.3 232.2 L338.3 231.8 L341.3 231.2 L344.3 231.1 L347.3 230.8 L350.8 231.7 L354.3 230.8 L357.3 231.5 L360.3 232.2 L363.3 232.6 L366.3 233.5 L369.7 233.8 L373.1 233.7 L376.5 234.1 L379.9 234.2 L383.3 234.7 L386.3 234.6 L389.3 234.3 L392.3 234.2 L395.3 234.4 L398.9 232.2 L402.3 235.6 L405.3 235.5 L408.3 235.6 L411.3 235.9 L414.3 235.9 L417.3 236.1 L420.3 236.1 L423.3 236.2 L426.3 236.1 L429.6 236.5 L432.9 236.3 L436.3 236.4 L439.6 236.9 L442.9 236.5 L446.2 236.8 L450.1 233.9 L453.9 236.6 L456.9 236.9 L460.0 236.9 L463.0 236.5 L466.1 237.2 L469.1 237.3 L472.2 237.2 L475.2 237.3 L478.3 237.5 L481.3 237.3 L484.9 237.1 L488.5 237.3 L492.0 237.3 L495.6 237.5 L499.2 237.2 L504.0 233.2 L506.4 213.0 L509.9 194.1 L514.0 164.5 L517.2 144.8 L520.2 164.5 L523.4 177.9 L528.8 190.1 L532.2 195.5 L535.5 200.8 L539.6 204.7 L543.6 208.1 L546.6 209.2 L549.7 209.9 L552.7 211.0 L555.7 211.6 L558.9 212.1 L562.2 212.5 L565.4 212.6 L568.7 212.8 L571.9 213.5 L575.1 213.6 L578.4 214.1 L581.6 214.2 L584.9 215.0 L588.1 215.1 L591.2 215.5 L594.4 215.8 L597.5 216.2 L600.6 216.5 L603.8 216.7 L606.9 217.0 L610.1 216.8 L613.2 217.4 L616.4 217.4 L619.5 217.4 L622.7 217.5 L625.8 217.5 L629.0 217.6 L632.1 217.2 L635.3 217.7 L638.4 217.3 L641.6 217.2 L644.7 217.5 M826.0 258.9 L828.8 263.6 L834.3 253.4 L838.1 250.5 L841.8 247.8 L844.9 246.9 L847.9 245.4 L851.0 244.5 L854.7 244.1 L858.5 243.8 L862.2 242.9 L865.9 242.3 L869.0 241.9 L872.0 241.5 L875.1 241.3 L878.2 241.0 L881.2 240.5 L884.3 240.0 L887.4 239.8 L890.5 239.1 L893.6 238.9 L896.7 238.7 L899.8 238.7 L902.9 238.2 L906.1 238.0 L909.4 238.0 L912.6 237.5 L915.9 237.5 L919.1 237.5 L922.3 237.7 L925.6 237.6 L928.8 237.3 L932.5 238.3 L936.2 239.1 L939.9 238.9 L943.6 238.9 L947.3 238.7 L951.0 238.6 L954.3 238.8 L957.5 238.8 L960.8 239.6 L964.0 239.5 L967.1 238.4 L970.2 238.0 L973.3 236.7 L976.5 236.6 L979.6 235.6 L982.8 235.5 L986.0 235.3 L989.2 235.1 L992.3 234.3 L995.5 233.9 L999.2 233.6 L1002.9 233.4 L1006.6 233.8 L1010.3 233.3 L1013.3 233.2 L1016.3 233.5 L1019.3 233.3 L1022.3 233.6 L1025.5 233.3 L1028.7 233.2 L1032.0 232.3 L1035.2 232.5 L1038.4 231.9 L1041.6 231.8 L1044.8 231.3 L1048.0 230.7 L1051.3 230.8 L1054.5 230.2 L1057.7 229.8 L1061.0 229.8 L1064.3 230.0 L1067.7 230.6 L1071.0 230.8 L1074.3 231.1 L1077.3 231.1 L1080.3 231.1 L1083.3 231.4 L1086.3 231.5 L1089.3 232.0 L1092.3 231.5 L1095.3 232.2 L1098.3 232.1 L1101.4 232.2 L1104.5 231.5 L1107.7 231.9 L1110.8 231.6 L1113.9 231.6 L1117.0 231.1 L1120.1 231.3 L1123.3 231.6 L1126.4 231.9 L1129.5 232.6 L1132.7 232.6 L1135.8 232.7 L1138.9 233.0 L1142.0 233.2 L1145.2 233.3 L1148.3 233.9 L1151.3 233.5 L1154.3 234.0 L1157.3 233.5 L1160.3 233.8 L1163.3 233.4 L1167.0 233.8 L1170.7 234.4 L1174.4 235.2 L1178.1 235.7 L1181.5 235.7 L1184.8 236.1 L1188.2 236.8 L1191.5 236.9 L1194.9 237.1 L1198.2 237.2 L1201.6 237.7 L1204.9 237.6" stroke="#000" stroke-opacity="0.1" stroke-width="1.5"/>
<path d="M143.5 262.0 L147.0 254.0 L151.9 245.9 L155.2 242.5 L158.6 239.2 L162.8 237.1 L167.0 235.0 L171.2 233.9 L175.5 232.4 L179.4 232.1 L183.3 231.9 L187.2 231.6 L190.6 225.3 L194.8 230.7 L198.0 231.4 L201.2 232.1 L204.3 232.2 L207.5 232.9 L212.5 232.4 L217.6 230.7 L221.0 230.9 L224.3 230.7 L227.7 230.6 L231.1 230.4 L234.4 230.3 L237.8 230.4 L241.7 221.0 L246.2 228.2 L250.1 228.3 L254.1 228.7 L258.0 229.4 L261.1 229.1 L264.3 229.5 L267.4 229.2 L270.6 229.1 L273.7 229.0 L276.9 229.6 L280.0 229.3 L283.2 229.3 L286.5 228.9 L289.8 228.3 L293.0 228.2 L296.0 228.7 L299.0 229.6 L302.0 229.5 L305.0 229.7 L308.0 229.6 L311.0 229.9 L314.0 229.8 L317.0 230.4 L320.0 230.5 L323.0 230.2 L326.0 230.1 L329.0 230.7 L332.0 230.3 L335.0 230.5 L338.0 230.0 L341.0 229.5 L344.0 229.4 L347.0 229.1 L350.5 230.0 L354.0 229.1 L357.0 229.8 L360.0 230.5 L363.0 230.9 L366.0 231.8 L369.4 232.0 L372.8 231.9 L376.2 232.4 L379.6 232.5 L383.0 233.0 L386.0 232.9 L389.0 232.5 L392.0 232.4 L395.0 232.7 L398.6 230.5 L402.0 233.9 L405.0 233.8 L408.0 233.8 L411.0 234.1 L414.0 234.2 L417.0 234.4 L420.0 234.4 L423.0 234.5 L426.0 234.4 L429.3 234.8 L432.6 234.6 L435.9 234.6 L439.3 235.2 L442.6 234.7 L445.9 235.1 L449.8 232.2 L453.6 234.9 L456.6 235.1 L459.7 235.2 L462.7 234.8 L465.8 235.4 L468.8 235.6 L471.9 235.5 L474.9 235.6 L478.0 235.7 L481.0 235.6 L484.6 235.3 L488.2 235.6 L491.7 235.5 L495.3 235.8 L498.9 235.5 L503.7 231.5 L506.1 211.3 L509.6 192.4 L513.7 162.8 L516.9 143.1 L519.9 162.8 L523.1 176.2 L528.5 188.4 L531.9 193.8 L535.2 199.1 L539.2 203.0 L543.3 206.4 L546.3 207.5 L549.3 208.2 L552.4 209.3 L555.4 209.9 L558.6 210.4 L561.9 210.8 L565.1 210.9 L568.4 211.1 L571.6 211.8 L574.8 211.9 L578.1 212.3 L581.3 212.5 L584.6 213.3 L587.8 213.4 L590.9 213.8 L594.1 214.1 L597.2 214.4 L600.3 214.8 L603.5 215.0 L606.6 215.3 L609.8 215.0 L612.9 215.7 L616.0 215.7 L619.2 215.6 L622.4 215.7 L625.5 215.8 L628.6 215.9 L631.8 215.5 L635.0 216.0 L638.1 215.6 L641.2 215.5 L644.4 215.8 M825.7 257.2 L828.5 261.9 L834.0 251.7 L837.8 248.7 L841.5 246.1 L844.6 245.2 L847.6 243.7 L850.7 242.8 L854.4 242.4 L858.2 242.0 L861.9 241.1 L865.6 240.6 L868.7 240.1 L871.7 239.8 L874.8 239.6 L877.9 239.3 L880.9 238.8 L884.0 238.3 L887.1 238.1 L890.2 237.4 L893.3 237.2 L896.4 236.9 L899.5 237.0 L902.6 236.5 L905.8 236.3 L909.1 236.3 L912.3 235.8 L915.5 235.7 L918.8 235.8 L922.0 235.9 L925.3 235.8 L928.5 235.6 L932.2 236.6 L935.9 237.4 L939.6 237.1 L943.3 237.2 L947.0 237.0 L950.7 236.9 L954.0 237.1 L957.2 237.1 L960.5 237.9 L963.7 237.8 L966.8 236.7 L969.9 236.3 L973.0 235.0 L976.2 234.9 L979.3 233.9 L982.5 233.8 L985.7 233.6 L988.9 233.3 L992.0 232.6 L995.2 232.2 L998.9 231.9 L1002.6 231.7 L1006.3 232.1 L1010.0 231.6 L1013.0 231.5 L1016.0 231.8 L1019.0 231.6 L1022.0 231.9 L1025.2 231.6 L1028.4 231.5 L1031.7 230.6 L1034.9 230.7 L1038.1 230.2 L1041.3 230.1 L1044.5 229.6 L1047.7 228.9 L1051.0 229.1 L1054.2 228.4 L1057.4 228.1 L1060.7 228.0 L1064.0 228.3 L1067.4 228.9 L1070.7 229.1 L1074.0 229.4 L1077.0 229.4 L1080.0 229.4 L1083.0 229.7 L1086.0 229.8 L1089.0 230.3 L1092.0 229.8 L1095.0 230.5 L1098.0 230.4 L1101.1 230.5 L1104.2 229.8 L1107.3 230.2 L1110.5 229.9 L1113.6 229.8 L1116.7 229.4 L1119.8 229.5 L1123.0 229.9 L1126.1 230.2 L1129.2 230.9 L1132.3 230.9 L1135.5 231.0 L1138.6 231.3 L1141.7 231.5 L1144.9 231.6 L1148.0 232.2 L1151.0 231.8 L1154.0 232.2 L1157.0 231.7 L1160.0 232.1 L1163.0 231.7 L1166.7 232.1 L1170.4 232.7 L1174.1 233.4 L1177.8 234.0 L1181.1 234.0 L1184.5 234.4 L1187.8 235.0 L1191.2 235.2 L1194.5 235.4 L1197.9 235.5 L1201.2 236.0 L1204.6 235.9" stroke="#9440ed" stroke-width="2"/>
<path d="M143.9 347.5 L148.4 337.5 L151.9 331.0 L155.4 324.5 L159.4 320.7 L163.4 316.5 L166.4 315.4 L169.4 314.3 L172.4 312.9 L175.4 312.0 L178.9 311.5 L182.4 310.7 L185.9 310.2 L189.4 309.5 L192.5 309.6 L195.6 309.5 L198.7 309.5 L201.8 310.0 L204.9 309.7 L208.0 310.0 L211.1 310.0 L214.2 310.1 L217.3 310.4 L220.4 310.4 L224.0 310.5 L227.6 310.0 L231.2 310.1 L234.8 310.0 L238.1 308.6 L241.4 307.5 L244.5 307.5 L247.5 307.5 L250.5 307.4 L253.6 307.4 L256.6 307.5 L259.7 307.9 L262.7 307.7 L265.7 307.6 L268.8 308.0 L271.8 308.1 L274.9 307.8 L277.9 307.7 L280.9 307.8 L284.0 307.7 L287.0 307.9 L290.0 307.8 L293.1 307.9 L296.1 308.0 L299.2 308.2 L302.2 308.3 L305.2 308.3 L308.3 308.2 L311.3 308.2 L314.4 308.3 L317.4 308.3 L320.4 308.4 L323.4 308.2 L326.4 307.9 L329.4 307.9 L332.4 308.1 L335.4 307.6 L338.4 307.6 L341.4 307.6 L344.4 307.6 L347.4 307.3 L350.5 307.4 L353.7 307.7 L356.8 308.0 L359.9 308.3 L363.0 308.6 L366.1 309.1 L369.2 309.2 L372.4 309.4 L375.5 309.4 L378.6 309.0 L381.8 309.1 L384.9 309.4 L388.0 309.6 L391.2 309.4 L394.3 309.5 L397.4 309.5 L400.4 309.5 L403.4 309.9 L406.4 310.4 L409.4 310.6 L412.4 310.9 L415.4 311.2 L418.4 311.1 L421.4 311.5 L424.5 311.4 L427.5 311.5 L430.5 311.7 L433.6 311.9 L436.6 312.1 L439.6 312.1 L442.6 312.1 L445.7 312.3 L448.7 312.2 L451.7 312.3 L454.8 312.2 L457.8 312.6 L460.8 312.4 L463.9 312.9 L466.9 312.8 L469.9 312.7 L472.9 312.7 L476.0 312.9 L479.0 313.1 L482.0 313.2 L485.2 313.3 L488.3 313.0 L491.4 313.0 L494.5 313.3 L497.7 313.3 L500.8 313.3 L503.9 313.4 L508.4 308.5 L512.4 302.8 L518.2 296.1 L519.4 296.0 L524.2 311.5 L528.6 319.7 L532.9 328.0 L537.3 332.2 L541.7 336.7 L546.1 338.7 L550.4 340.7 L553.7 341.1 L557.0 341.9 L560.3 342.6 L563.5 343.3 L566.6 343.7 L569.7 343.8 L572.8 344.1 L575.9 344.1 L578.9 344.4 L581.9 344.4 L584.9 344.5 L587.9 345.0 L590.9 345.0 L593.9 345.0 L596.9 344.9 L599.9 345.3 L602.9 345.5 L606.2 345.7 L609.5 345.8 L612.8 345.9 L616.1 346.3 L619.4 346.6 L622.6 346.6 L625.8 346.5 L629.0 346.4 L632.2 346.7 L635.4 346.8 L638.6 346.9 L641.7 346.8 L644.9 347.0 M826.1 344.7 L830.8 333.6 L836.3 325.3 L840.0 323.1 L843.7 320.6 L846.8 319.8 L849.9 318.8 L853.0 317.9 L856.3 317.1 L859.5 316.9 L862.8 316.0 L866.0 315.6 L869.1 315.4 L872.2 314.8 L875.2 314.5 L878.3 314.5 L881.4 314.0 L884.4 313.8 L887.6 313.8 L890.8 313.3 L894.0 313.0 L897.2 312.8 L900.4 312.6 L903.5 312.6 L906.7 312.3 L909.7 312.4 L912.8 312.0 L915.8 312.0 L918.8 311.9 L921.8 312.2 L924.8 311.7 L927.8 311.6 L930.8 311.8 L934.2 311.7 L937.6 312.1 L941.0 312.5 L944.4 312.7 L947.8 312.8 L951.1 312.9 L954.5 313.1 L957.8 313.1 L961.2 312.8 L964.5 312.7 L967.8 312.9 L970.9 312.7 L974.0 312.2 L977.1 311.4 L980.2 311.3 L983.3 310.8 L986.3 310.5 L989.9 310.1 L993.4 309.9 L996.9 309.5 L1000.4 309.5 L1003.5 309.1 L1006.6 309.0 L1009.7 308.9 L1012.8 309.1 L1015.9 308.5 L1019.0 308.8 L1022.1 308.2 L1025.1 308.1 L1028.2 308.1 L1031.3 307.8 L1034.4 307.4 L1037.5 306.8 L1040.6 306.2 L1043.7 306.0 L1046.8 305.6 L1049.9 305.5 L1052.9 304.7 L1056.0 304.5 L1059.1 304.6 L1062.2 305.0 L1065.3 304.8 L1068.3 305.2 L1071.4 305.6 L1074.5 305.7 L1077.6 305.6 L1080.7 305.7 L1083.7 306.2 L1087.1 306.1 L1090.4 306.6 L1093.8 306.4 L1097.1 306.8 L1100.4 306.8 L1103.8 306.8 L1107.1 306.3 L1110.5 306.0 L1113.8 306.2 L1117.1 305.8 L1120.3 306.1 L1123.4 306.2 L1126.5 306.7 L1129.7 306.8 L1132.8 307.0 L1135.9 307.2 L1139.0 307.8 L1142.2 308.2 L1145.3 308.3 L1148.4 308.6 L1151.4 308.8 L1154.4 308.3 L1157.4 308.4 L1160.4 308.5 L1163.4 308.6 L1167.1 309.3 L1170.8 309.7 L1174.5 309.9 L1178.2 310.5 L1181.6 310.6 L1184.9 310.9 L1188.3 311.1 L1191.6 311.6 L1195.0 311.4 L1198.3 312.0 L1201.7 312.2 L1205.0 312.3" stroke="#000" stroke-opacity="0.1" stroke-width="3"/>
<path d="M143.8 346.7 L148.3 336.7 L151.8 330.2 L155.3 323.7 L159.3 319.9 L163.3 315.7 L166.3 314.6 L169.3 313.6 L172.3 312.1 L175.3 311.2 L178.8 310.7 L182.3 309.9 L185.8 309.5 L189.3 308.7 L192.4 308.9 L195.5 308.8 L198.6 308.8 L201.7 309.3 L204.8 309.0 L207.9 309.2 L211.0 309.3 L214.1 309.3 L217.2 309.7 L220.3 309.6 L223.9 309.8 L227.5 309.3 L231.1 309.4 L234.7 309.2 L238.0 307.9 L241.3 306.7 L244.3 306.8 L247.4 306.7 L250.4 306.7 L253.5 306.7 L256.5 306.8 L259.5 307.1 L262.6 307.0 L265.6 306.9 L268.7 307.2 L271.7 307.3 L274.7 307.1 L277.8 307.0 L280.8 307.0 L283.8 307.0 L286.9 307.2 L289.9 307.1 L293.0 307.2 L296.0 307.2 L299.0 307.4 L302.1 307.6 L305.1 307.6 L308.2 307.4 L311.2 307.5 L314.2 307.6 L317.3 307.5 L320.3 307.6 L323.3 307.4 L326.3 307.2 L329.3 307.1 L332.3 307.4 L335.3 306.8 L338.3 306.9 L341.3 306.8 L344.3 306.8 L347.3 306.5 L350.4 306.7 L353.5 307.0 L356.6 307.2 L359.8 307.6 L362.9 307.9 L366.0 308.4 L369.1 308.4 L372.2 308.6 L375.4 308.7 L378.5 308.3 L381.6 308.3 L384.8 308.7 L387.9 308.8 L391.0 308.6 L394.2 308.7 L397.3 308.7 L400.3 308.7 L403.3 309.2 L406.3 309.7 L409.3 309.9 L412.3 310.2 L415.3 310.5 L418.3 310.3 L421.3 310.7 L424.3 310.6 L427.4 310.7 L430.4 311.0 L433.4 311.2 L436.5 311.4 L439.5 311.3 L442.5 311.4 L445.5 311.5 L448.6 311.5 L451.6 311.6 L454.6 311.4 L457.7 311.9 L460.7 311.7 L463.7 312.1 L466.8 312.1 L469.8 312.0 L472.8 312.0 L475.8 312.1 L478.9 312.4 L481.9 312.4 L485.0 312.6 L488.2 312.3 L491.3 312.3 L494.4 312.5 L497.5 312.6 L500.7 312.5 L503.8 312.6 L508.3 307.7 L512.3 302.0 L518.1 295.3 L519.3 295.2 L524.1 310.7 L528.5 319.0 L532.8 327.2 L537.2 331.4 L541.6 335.9 L546.0 338.0 L550.3 339.9 L553.6 340.3 L556.9 341.1 L560.1 341.9 L563.4 342.5 L566.5 343.0 L569.6 343.0 L572.6 343.4 L575.7 343.4 L578.8 343.6 L581.8 343.6 L584.8 343.8 L587.8 344.3 L590.8 344.3 L593.8 344.2 L596.8 344.2 L599.8 344.6 L602.8 344.7 L606.1 345.0 L609.4 345.1 L612.7 345.2 L615.9 345.5 L619.2 345.9 L622.5 345.8 L625.7 345.7 L628.9 345.7 L632.1 345.9 L635.2 346.0 L638.4 346.2 L641.6 346.0 L644.8 346.2 M826.0 343.9 L830.7 332.8 L836.2 324.5 L839.9 322.3 L843.6 319.8 L846.7 319.0 L849.8 318.0 L852.9 317.1 L856.2 316.4 L859.4 316.2 L862.7 315.3 L865.9 314.8 L869.0 314.7 L872.0 314.1 L875.1 313.8 L878.2 313.8 L881.2 313.2 L884.3 313.0 L887.5 313.0 L890.7 312.6 L893.9 312.2 L897.0 312.0 L900.2 311.9 L903.4 311.8 L906.6 311.5 L909.6 311.7 L912.6 311.2 L915.6 311.3 L918.7 311.1 L921.7 311.4 L924.7 311.0 L927.7 310.9 L930.7 311.0 L934.1 311.0 L937.5 311.3 L940.9 311.8 L944.2 311.9 L947.6 312.1 L951.0 312.1 L954.3 312.4 L957.7 312.3 L961.0 312.0 L964.4 312.0 L967.7 312.1 L970.8 311.9 L973.9 311.4 L977.0 310.7 L980.0 310.6 L983.1 310.1 L986.2 309.7 L989.7 309.4 L993.3 309.1 L996.8 308.8 L1000.3 308.7 L1003.4 308.3 L1006.5 308.3 L1009.6 308.2 L1012.7 308.3 L1015.7 307.8 L1018.8 308.0 L1021.9 307.5 L1025.0 307.4 L1028.1 307.3 L1031.2 307.1 L1034.3 306.7 L1037.4 306.1 L1040.5 305.5 L1043.5 305.3 L1046.6 304.9 L1049.7 304.7 L1052.8 304.0 L1055.9 303.7 L1059.0 303.8 L1062.1 304.3 L1065.1 304.1 L1068.2 304.4 L1071.3 304.8 L1074.4 305.0 L1077.4 304.8 L1080.5 305.0 L1083.6 305.4 L1086.9 305.3 L1090.3 305.9 L1093.6 305.7 L1097.0 306.0 L1100.3 306.0 L1103.6 306.0 L1107.0 305.5 L1110.3 305.3 L1113.7 305.5 L1117.0 305.0 L1120.1 305.4 L1123.3 305.5 L1126.4 306.0 L1129.5 306.1 L1132.7 306.3 L1135.8 306.5 L1138.9 307.1 L1142.0 307.5 L1145.2 307.6 L1148.3 307.8 L1151.3 308.0 L1154.3 307.6 L1157.3 307.7 L1160.3 307.8 L1163.3 307.8 L1167.0 308.5 L1170.7 309.0 L1174.4 309.2 L1178.1 309.7 L1181.5 309.8 L1184.8 310.1 L1188.2 310.4 L1191.5 310.8 L1194.9 310.7 L1198.2 311.2 L1201.6 311.4 L1204.9 311.5" stroke="#000" stroke-opacity="0.1" stroke-width="1.5"/>
<path d="M143.5 345.0 L148.0 335.0 L151.5 328.5 L155.0 322.0 L159.0 318.2 L163.0 314.0 L166.0 312.9 L169.0 311.9 L172.0 310.4 L175.0 309.5 L178.5 309.0 L182.0 308.2 L185.5 307.8 L189.0 307.0 L192.1 307.2 L195.2 307.1 L198.3 307.0 L201.4 307.6 L204.5 307.3 L207.6 307.5 L210.7 307.6 L213.8 307.6 L216.9 307.9 L220.0 307.9 L223.6 308.0 L227.2 307.6 L230.8 307.7 L234.4 307.5 L237.7 306.2 L241.0 305.0 L244.0 305.1 L247.1 305.0 L250.1 304.9 L253.2 305.0 L256.2 305.0 L259.2 305.4 L262.3 305.2 L265.3 305.1 L268.3 305.5 L271.4 305.6 L274.4 305.4 L277.5 305.2 L280.5 305.3 L283.5 305.3 L286.6 305.4 L289.6 305.3 L292.7 305.5 L295.7 305.5 L298.7 305.7 L301.8 305.9 L304.8 305.9 L307.8 305.7 L310.9 305.8 L313.9 305.8 L317.0 305.8 L320.0 305.9 L323.0 305.7 L326.0 305.4 L329.0 305.4 L332.0 305.6 L335.0 305.1 L338.0 305.2 L341.0 305.1 L344.0 305.1 L347.0 304.8 L350.1 304.9 L353.2 305.2 L356.3 305.5 L359.5 305.8 L362.6 306.1 L365.7 306.7 L368.8 306.7 L371.9 306.9 L375.1 307.0 L378.2 306.6 L381.3 306.6 L384.5 307.0 L387.6 307.1 L390.7 306.9 L393.9 307.0 L397.0 307.0 L400.0 307.0 L403.0 307.4 L406.0 308.0 L409.0 308.2 L412.0 308.4 L415.0 308.7 L418.0 308.6 L421.0 309.0 L424.0 308.9 L427.1 309.0 L430.1 309.3 L433.1 309.4 L436.1 309.6 L439.2 309.6 L442.2 309.7 L445.2 309.8 L448.3 309.7 L451.3 309.9 L454.3 309.7 L457.4 310.2 L460.4 310.0 L463.4 310.4 L466.5 310.3 L469.5 310.3 L472.5 310.3 L475.5 310.4 L478.6 310.7 L481.6 310.7 L484.7 310.8 L487.9 310.6 L491.0 310.6 L494.1 310.8 L497.2 310.9 L500.4 310.8 L503.5 310.9 L508.0 306.0 L512.0 300.3 L517.8 293.6 L519.0 293.5 L523.8 309.0 L528.1 317.2 L532.5 325.5 L536.9 329.7 L541.3 334.2 L545.6 336.3 L550.0 338.2 L553.3 338.6 L556.5 339.4 L559.8 340.1 L563.1 340.8 L566.2 341.2 L569.3 341.3 L572.3 341.7 L575.4 341.7 L578.5 341.9 L581.5 341.9 L584.5 342.0 L587.5 342.5 L590.5 342.6 L593.5 342.5 L596.5 342.5 L599.5 342.9 L602.5 343.0 L605.8 343.3 L609.1 343.3 L612.4 343.4 L615.6 343.8 L618.9 344.1 L622.2 344.1 L625.4 344.0 L628.6 344.0 L631.8 344.2 L634.9 344.3 L638.1 344.5 L641.3 344.3 L644.5 344.5 M825.7 342.2 L830.4 331.1 L835.9 322.8 L839.6 320.6 L843.3 318.1 L846.4 317.3 L849.5 316.3 L852.6 315.4 L855.9 314.7 L859.1 314.5 L862.4 313.6 L865.6 313.1 L868.7 313.0 L871.7 312.4 L874.8 312.1 L877.9 312.0 L880.9 311.5 L884.0 311.3 L887.2 311.3 L890.4 310.9 L893.6 310.5 L896.7 310.3 L899.9 310.2 L903.1 310.1 L906.3 309.8 L909.3 310.0 L912.3 309.5 L915.3 309.6 L918.3 309.4 L921.4 309.7 L924.4 309.2 L927.4 309.1 L930.4 309.3 L933.8 309.3 L937.2 309.6 L940.5 310.0 L943.9 310.2 L947.3 310.3 L950.7 310.4 L954.0 310.6 L957.4 310.6 L960.7 310.3 L964.1 310.2 L967.4 310.4 L970.5 310.2 L973.6 309.7 L976.6 309.0 L979.7 308.9 L982.8 308.3 L985.9 308.0 L989.4 307.7 L993.0 307.4 L996.5 307.1 L1000.0 307.0 L1003.1 306.6 L1006.2 306.6 L1009.3 306.5 L1012.4 306.6 L1015.4 306.0 L1018.5 306.3 L1021.6 305.8 L1024.7 305.7 L1027.8 305.6 L1030.9 305.4 L1034.0 305.0 L1037.1 304.4 L1040.2 303.8 L1043.2 303.6 L1046.3 303.1 L1049.4 303.0 L1052.5 302.2 L1055.6 302.0 L1058.7 302.1 L1061.8 302.6 L1064.8 302.3 L1067.9 302.7 L1071.0 303.1 L1074.1 303.3 L1077.1 303.1 L1080.2 303.3 L1083.3 303.7 L1086.6 303.6 L1090.0 304.2 L1093.3 303.9 L1096.7 304.3 L1100.0 304.3 L1103.3 304.3 L1106.7 303.8 L1110.0 303.6 L1113.4 303.7 L1116.7 303.3 L1119.8 303.6 L1123.0 303.7 L1126.1 304.2 L1129.2 304.3 L1132.3 304.6 L1135.5 304.7 L1138.6 305.4 L1141.7 305.7 L1144.9 305.9 L1148.0 306.1 L1151.0 306.3 L1154.0 305.9 L1157.0 306.0 L1160.0 306.1 L1163.0 306.1 L1166.7 306.8 L1170.4 307.3 L1174.1 307.5 L1177.8 308.0 L1181.1 308.1 L1184.5 308.4 L1187.8 308.7 L1191.2 309.1 L1194.5 309.0 L1197.9 309.5 L1201.2 309.7 L1204.6 309.8" stroke="#bd9b33" stroke-width="2"/>
<path d="M143.9 339.5 L147.4 322.5 L152.4 306.2 L157.4 298.5 L160.8 296.6 L164.1 294.4 L167.5 293.6 L170.8 292.7 L174.1 291.7 L177.4 291.0 L180.7 290.7 L184.0 290.6 L187.3 290.6 L190.6 290.1 L193.9 290.0 L197.1 290.1 L200.4 289.8 L203.8 289.6 L207.1 289.4 L210.4 289.3 L213.8 289.5 L217.1 289.3 L220.4 289.3 L223.9 289.5 L227.4 289.5 L230.9 289.5 L234.4 289.3 L237.9 288.5 L241.4 288.0 L244.5 287.8 L247.5 287.8 L250.5 288.1 L253.6 288.2 L256.6 288.1 L259.7 288.0 L262.7 288.1 L265.7 288.3 L268.8 288.3 L271.8 288.4 L274.9 288.5 L277.9 288.4 L280.9 288.2 L284.0 288.6 L287.0 288.3 L290.0 288.5 L293.1 288.4 L296.1 288.6 L299.2 288.4 L302.2 288.5 L305.2 288.5 L308.3 288.5 L311.3 288.9 L314.4 288.7 L317.4 288.6 L320.4 288.8 L323.4 288.6 L326.4 288.8 L329.4 288.5 L332.4 288.3 L335.4 288.5 L338.4 288.3 L341.4 288.4 L344.4 287.9 L347.4 288.0 L350.5 288.1 L353.7 288.5 L356.8 288.7 L359.9 288.9 L363.0 288.7 L366.1 289.0 L369.2 289.3 L372.3 289.2 L375.4 289.4 L378.4 289.9 L381.5 289.8 L384.6 290.1 L387.7 290.0 L390.7 290.4 L393.8 290.3 L396.9 290.3 L399.9 290.7 L403.0 290.9 L406.1 290.6 L409.2 291.0 L412.2 291.1 L415.3 291.1 L418.4 291.3 L421.4 291.5 L424.5 291.4 L427.5 291.5 L430.5 291.6 L433.6 291.9 L436.6 292.0 L439.6 291.9 L442.6 291.9 L445.7 292.2 L448.7 292.5 L451.7 292.3 L454.8 292.5 L457.8 292.5 L460.8 292.9 L463.9 292.9 L466.9 292.7 L469.9 292.9 L472.9 293.1 L476.0 293.3 L479.0 293.4 L482.0 293.5 L485.2 293.3 L488.3 293.4 L491.4 293.8 L494.5 293.7 L497.7 293.7 L500.8 293.8 L503.9 294.0 L508.4 293.5 L512.4 291.9 L516.4 291.7 L519.4 293.5 L522.9 298.1 L526.4 302.8 L530.8 309.9 L535.1 317.1 L539.5 321.6 L543.9 325.8 L548.3 327.9 L552.6 330.2 L555.7 331.1 L558.8 331.8 L561.8 332.7 L564.9 333.8 L567.9 334.5 L571.4 335.0 L574.9 334.9 L578.4 335.0 L581.9 335.5 L585.4 335.7 L588.9 335.7 L592.4 335.8 L595.9 336.5 L599.4 336.4 L602.9 336.7 L606.2 337.1 L609.5 337.1 L612.8 337.7 L616.1 337.7 L619.4 337.8 L622.6 338.3 L625.8 338.1 L629.0 338.5 L632.2 338.6 L635.4 338.8 L638.6 338.5 L641.7 338.8 L644.9 338.9 M826.1 335.5 L828.9 326.2 L834.4 313.2 L838.2 308.9 L841.9 304.9 L845.0 303.3 L848.1 301.6 L851.1 300.3 L854.9 299.5 L858.6 298.9 L862.3 298.4 L866.0 297.5 L869.1 296.9 L872.2 296.8 L875.2 296.7 L878.3 296.4 L881.4 295.7 L884.4 295.6 L887.5 295.1 L890.6 295.3 L893.7 295.1 L896.8 294.6 L899.9 294.1 L903.0 294.3 L906.1 293.8 L909.2 293.8 L912.3 293.4 L915.3 293.4 L918.3 293.5 L921.3 293.2 L924.3 293.5 L927.3 293.2 L930.3 293.3 L933.3 293.5 L936.3 293.4 L940.0 294.0 L943.7 294.4 L947.1 294.2 L950.5 294.2 L953.9 294.3 L957.3 294.4 L960.7 294.3 L964.1 294.4 L967.3 293.8 L970.5 293.5 L973.6 293.4 L976.8 293.1 L980.0 292.3 L983.2 292.3 L986.3 291.9 L989.9 291.9 L993.4 291.4 L996.9 291.7 L1000.4 291.5 L1003.5 291.0 L1006.6 291.1 L1009.7 290.8 L1012.8 290.6 L1015.9 290.3 L1019.0 290.1 L1022.1 289.9 L1025.1 289.6 L1028.2 289.5 L1031.4 289.2 L1034.5 288.7 L1037.7 288.4 L1040.8 287.8 L1044.0 287.8 L1047.1 287.4 L1050.3 286.9 L1053.4 286.8 L1056.6 286.5 L1059.7 286.0 L1062.7 286.1 L1065.7 286.0 L1068.7 286.3 L1071.7 286.2 L1074.7 286.3 L1077.7 286.6 L1080.7 286.5 L1083.7 286.9 L1086.8 286.9 L1089.9 287.0 L1093.0 286.9 L1096.1 287.3 L1099.2 287.1 L1102.3 287.5 L1105.4 287.6 L1108.5 287.5 L1111.6 287.4 L1114.7 287.7 L1117.7 287.7 L1120.8 287.9 L1123.9 288.3 L1127.0 288.2 L1130.0 288.8 L1133.1 289.1 L1136.2 289.2 L1139.2 289.5 L1142.3 289.4 L1145.4 290.1 L1148.4 290.1 L1151.5 290.2 L1154.7 290.5 L1157.8 290.6 L1160.9 290.3 L1164.0 290.7 L1167.1 290.9 L1170.2 290.5 L1173.3 290.8 L1176.4 291.0 L1179.6 291.3 L1182.8 291.3 L1186.0 291.9 L1189.1 291.8 L1192.3 292.3 L1195.5 292.3 L1198.7 292.7 L1201.9 293.1 L1205.0 293.2" stroke="#000" stroke-opacity="0.1" stroke-width="3"/>
<path d="M143.8 338.7 L147.3 321.7 L152.3 305.4 L157.3 297.7 L160.7 295.8 L164.0 293.6 L167.3 292.9 L170.7 292.0 L174.0 291.0 L177.3 290.2 L180.6 290.0 L183.9 289.8 L187.2 289.9 L190.4 289.3 L193.7 289.2 L197.0 289.3 L200.3 289.0 L203.6 288.8 L207.0 288.6 L210.3 288.5 L213.6 288.7 L217.0 288.5 L220.3 288.5 L223.8 288.8 L227.3 288.7 L230.8 288.8 L234.3 288.5 L237.8 287.8 L241.3 287.2 L244.3 287.0 L247.4 287.1 L250.4 287.3 L253.5 287.5 L256.5 287.4 L259.5 287.3 L262.6 287.4 L265.6 287.5 L268.7 287.6 L271.7 287.7 L274.7 287.7 L277.8 287.7 L280.8 287.4 L283.8 287.8 L286.9 287.6 L289.9 287.7 L293.0 287.7 L296.0 287.9 L299.0 287.7 L302.1 287.7 L305.1 287.7 L308.2 287.7 L311.2 288.1 L314.2 288.0 L317.3 287.9 L320.3 288.0 L323.3 287.9 L326.3 288.1 L329.3 287.8 L332.3 287.5 L335.3 287.7 L338.3 287.6 L341.3 287.6 L344.3 287.1 L347.3 287.2 L350.4 287.4 L353.5 287.8 L356.6 288.0 L359.8 288.2 L362.9 287.9 L366.0 288.2 L369.1 288.5 L372.2 288.5 L375.2 288.6 L378.3 289.1 L381.4 289.1 L384.5 289.4 L387.5 289.2 L390.6 289.6 L393.7 289.5 L396.7 289.6 L399.8 290.0 L402.9 290.2 L406.0 289.9 L409.0 290.3 L412.1 290.4 L415.2 290.3 L418.2 290.5 L421.3 290.7 L424.3 290.6 L427.4 290.8 L430.4 290.9 L433.4 291.2 L436.5 291.3 L439.5 291.2 L442.5 291.2 L445.5 291.4 L448.6 291.7 L451.6 291.6 L454.6 291.7 L457.7 291.8 L460.7 292.2 L463.7 292.1 L466.8 292.0 L469.8 292.1 L472.8 292.4 L475.8 292.5 L478.9 292.7 L481.9 292.7 L485.0 292.6 L488.2 292.7 L491.3 293.0 L494.4 293.0 L497.5 293.0 L500.7 293.1 L503.8 293.2 L508.3 292.7 L512.3 291.1 L516.3 290.9 L519.3 292.7 L522.8 297.4 L526.3 302.0 L530.7 309.2 L535.0 316.3 L539.4 320.9 L543.8 325.0 L548.2 327.1 L552.5 329.4 L555.6 330.3 L558.6 331.1 L561.7 332.0 L564.7 333.0 L567.8 333.7 L571.3 334.2 L574.8 334.1 L578.3 334.3 L581.8 334.8 L585.3 334.9 L588.8 335.0 L592.3 335.1 L595.8 335.7 L599.3 335.7 L602.8 335.9 L606.1 336.4 L609.4 336.4 L612.7 336.9 L615.9 337.0 L619.2 337.1 L622.5 337.5 L625.7 337.4 L628.9 337.7 L632.1 337.9 L635.2 338.1 L638.4 337.7 L641.6 338.1 L644.8 338.1 M826.0 334.7 L828.8 325.4 L834.3 312.4 L838.1 308.2 L841.8 304.1 L844.9 302.6 L847.9 300.9 L851.0 299.5 L854.7 298.7 L858.5 298.1 L862.2 297.6 L865.9 296.7 L869.0 296.2 L872.0 296.1 L875.1 295.9 L878.2 295.7 L881.2 295.0 L884.3 294.8 L887.4 294.4 L890.5 294.6 L893.6 294.3 L896.7 293.8 L899.8 293.4 L902.9 293.6 L906.0 293.1 L909.1 293.1 L912.2 292.6 L915.2 292.7 L918.2 292.8 L921.2 292.5 L924.2 292.8 L927.2 292.5 L930.2 292.6 L933.2 292.8 L936.2 292.6 L939.9 293.3 L943.6 293.6 L947.0 293.5 L950.4 293.5 L953.8 293.6 L957.2 293.6 L960.6 293.6 L964.0 293.6 L967.2 293.1 L970.3 292.8 L973.5 292.7 L976.7 292.4 L979.9 291.6 L983.0 291.5 L986.2 291.1 L989.7 291.2 L993.3 290.7 L996.8 291.0 L1000.3 290.7 L1003.4 290.3 L1006.5 290.3 L1009.6 290.1 L1012.7 289.9 L1015.7 289.5 L1018.8 289.4 L1021.9 289.2 L1025.0 288.9 L1028.1 288.7 L1031.3 288.5 L1034.4 288.0 L1037.6 287.6 L1040.7 287.1 L1043.9 287.0 L1047.0 286.6 L1050.2 286.1 L1053.3 286.1 L1056.5 285.7 L1059.6 285.2 L1062.6 285.3 L1065.6 285.3 L1068.6 285.5 L1071.6 285.5 L1074.6 285.6 L1077.6 285.9 L1080.6 285.8 L1083.6 286.1 L1086.7 286.2 L1089.8 286.3 L1092.9 286.1 L1096.0 286.5 L1099.1 286.3 L1102.2 286.7 L1105.2 286.8 L1108.3 286.8 L1111.4 286.7 L1114.5 287.0 L1117.6 287.0 L1120.7 287.1 L1123.8 287.6 L1126.8 287.4 L1129.9 288.0 L1133.0 288.3 L1136.0 288.5 L1139.1 288.7 L1142.2 288.7 L1145.2 289.3 L1148.3 289.3 L1151.4 289.4 L1154.5 289.8 L1157.6 289.8 L1160.7 289.6 L1163.9 290.0 L1167.0 290.1 L1170.1 289.8 L1173.2 290.0 L1176.3 290.2 L1179.5 290.6 L1182.7 290.5 L1185.8 291.2 L1189.0 291.1 L1192.2 291.6 L1195.4 291.5 L1198.5 291.9 L1201.7 292.4 L1204.9 292.4" stroke="#000" stroke-opacity="0.1" stroke-width="1.5"/>
<path d="M143.5 337.0 L147.0 320.0 L152.0 303.7 L157.0 296.0 L160.3 294.1 L163.7 291.9 L167.0 291.2 L170.3 290.3 L173.7 289.3 L177.0 288.5 L180.3 288.2 L183.6 288.1 L186.9 288.1 L190.1 287.6 L193.4 287.5 L196.7 287.6 L200.0 287.3 L203.3 287.1 L206.7 286.9 L210.0 286.8 L213.3 287.0 L216.7 286.8 L220.0 286.8 L223.5 287.0 L227.0 287.0 L230.5 287.0 L234.0 286.8 L237.5 286.0 L241.0 285.5 L244.0 285.3 L247.1 285.4 L250.1 285.6 L253.2 285.7 L256.2 285.6 L259.2 285.6 L262.3 285.7 L265.3 285.8 L268.3 285.9 L271.4 285.9 L274.4 286.0 L277.5 286.0 L280.5 285.7 L283.5 286.1 L286.6 285.9 L289.6 286.0 L292.7 286.0 L295.7 286.2 L298.7 285.9 L301.8 286.0 L304.8 286.0 L307.8 286.0 L310.9 286.4 L313.9 286.3 L317.0 286.2 L320.0 286.3 L323.0 286.2 L326.0 286.4 L329.0 286.0 L332.0 285.8 L335.0 286.0 L338.0 285.8 L341.0 285.9 L344.0 285.4 L347.0 285.5 L350.1 285.7 L353.2 286.0 L356.3 286.2 L359.5 286.5 L362.6 286.2 L365.7 286.5 L368.8 286.8 L371.9 286.7 L374.9 286.9 L378.0 287.4 L381.1 287.4 L384.2 287.7 L387.2 287.5 L390.3 287.9 L393.4 287.8 L396.4 287.8 L399.5 288.2 L402.6 288.4 L405.6 288.2 L408.7 288.5 L411.8 288.7 L414.9 288.6 L417.9 288.8 L421.0 289.0 L424.0 288.9 L427.1 289.1 L430.1 289.2 L433.1 289.4 L436.1 289.6 L439.2 289.5 L442.2 289.5 L445.2 289.7 L448.3 290.0 L451.3 289.8 L454.3 290.0 L457.4 290.1 L460.4 290.4 L463.4 290.4 L466.5 290.3 L469.5 290.4 L472.5 290.6 L475.5 290.8 L478.6 291.0 L481.6 291.0 L484.7 290.9 L487.9 291.0 L491.0 291.3 L494.1 291.2 L497.2 291.2 L500.4 291.3 L503.5 291.5 L508.0 291.0 L512.0 289.4 L516.0 289.2 L519.0 291.0 L522.5 295.6 L526.0 300.3 L530.4 307.5 L534.7 314.6 L539.1 319.2 L543.5 323.3 L547.9 325.4 L552.2 327.7 L555.3 328.6 L558.3 329.3 L561.4 330.2 L564.4 331.3 L567.5 332.0 L571.0 332.5 L574.5 332.4 L578.0 332.6 L581.5 333.1 L585.0 333.2 L588.5 333.3 L592.0 333.4 L595.5 334.0 L599.0 334.0 L602.5 334.2 L605.8 334.6 L609.1 334.7 L612.4 335.2 L615.6 335.2 L618.9 335.4 L622.2 335.8 L625.4 335.6 L628.6 336.0 L631.8 336.1 L634.9 336.3 L638.1 336.0 L641.3 336.4 L644.5 336.4 M825.7 333.0 L828.5 323.7 L834.0 310.7 L837.8 306.5 L841.5 302.4 L844.6 300.9 L847.6 299.2 L850.7 297.8 L854.4 297.0 L858.2 296.4 L861.9 295.9 L865.6 295.0 L868.7 294.5 L871.7 294.4 L874.8 294.2 L877.9 294.0 L880.9 293.3 L884.0 293.1 L887.1 292.7 L890.2 292.8 L893.3 292.6 L896.4 292.1 L899.5 291.7 L902.6 291.8 L905.7 291.3 L908.8 291.3 L911.9 290.9 L914.9 291.0 L917.9 291.1 L920.9 290.7 L923.9 291.0 L926.9 290.8 L929.9 290.9 L932.9 291.1 L935.9 290.9 L939.6 291.6 L943.3 291.9 L946.7 291.7 L950.1 291.8 L953.5 291.8 L956.9 291.9 L960.3 291.8 L963.7 291.9 L966.9 291.4 L970.0 291.1 L973.2 290.9 L976.4 290.7 L979.6 289.9 L982.7 289.8 L985.9 289.4 L989.4 289.4 L993.0 289.0 L996.5 289.3 L1000.0 289.0 L1003.1 288.6 L1006.2 288.6 L1009.3 288.4 L1012.4 288.2 L1015.4 287.8 L1018.5 287.6 L1021.6 287.5 L1024.7 287.2 L1027.8 287.0 L1031.0 286.7 L1034.1 286.3 L1037.2 285.9 L1040.4 285.4 L1043.5 285.3 L1046.7 284.9 L1049.8 284.4 L1053.0 284.3 L1056.1 284.0 L1059.3 283.5 L1062.3 283.6 L1065.3 283.6 L1068.3 283.8 L1071.3 283.8 L1074.3 283.9 L1077.3 284.1 L1080.3 284.1 L1083.3 284.4 L1086.4 284.5 L1089.5 284.6 L1092.6 284.4 L1095.7 284.8 L1098.8 284.6 L1101.8 285.0 L1104.9 285.1 L1108.0 285.1 L1111.1 284.9 L1114.2 285.2 L1117.3 285.3 L1120.4 285.4 L1123.5 285.9 L1126.5 285.7 L1129.6 286.3 L1132.7 286.6 L1135.7 286.7 L1138.8 287.0 L1141.9 287.0 L1144.9 287.6 L1148.0 287.6 L1151.1 287.7 L1154.2 288.0 L1157.3 288.1 L1160.4 287.8 L1163.6 288.2 L1166.7 288.4 L1169.8 288.1 L1172.9 288.3 L1176.0 288.5 L1179.2 288.9 L1182.4 288.8 L1185.5 289.4 L1188.7 289.4 L1191.9 289.9 L1195.1 289.8 L1198.2 290.2 L1201.4 290.7 L1204.6 290.7" stroke="#8cacc6" stroke-width="2"/>
<path d="M143.9 342.5 L148.4 327.5 L151.9 320.2 L155.4 312.9 L158.4 309.5 L161.4 306.5 L164.4 304.8 L167.4 303.5 L170.8 302.7 L174.2 301.8 L177.6 300.8 L180.9 300.3 L184.2 299.9 L187.4 299.7 L190.7 299.8 L193.9 299.5 L197.2 299.4 L200.4 299.0 L203.8 298.7 L207.1 298.9 L210.4 298.5 L213.8 298.6 L217.1 298.6 L220.4 298.5 L224.0 298.4 L227.6 298.6 L231.2 298.5 L234.8 298.5 L238.1 297.5 L241.4 296.5 L244.5 296.7 L247.5 296.4 L250.5 296.9 L253.6 296.7 L256.6 296.7 L259.7 296.9 L262.7 296.7 L265.7 297.1 L268.8 297.0 L271.8 296.9 L274.9 297.1 L277.9 297.0 L280.9 297.0 L284.0 297.3 L287.0 297.0 L290.0 297.4 L293.1 297.2 L296.1 297.4 L299.2 297.7 L302.2 297.5 L305.2 297.6 L308.3 297.5 L311.3 297.4 L314.4 297.4 L317.4 297.5 L320.4 297.8 L323.4 297.7 L326.4 297.5 L329.4 297.5 L332.4 297.6 L335.4 297.1 L338.4 297.0 L341.4 297.1 L344.4 296.7 L347.4 296.9 L350.5 296.8 L353.7 297.2 L356.8 297.4 L359.9 297.7 L363.0 297.9 L366.1 298.3 L369.2 298.5 L372.3 298.7 L375.4 298.6 L378.4 299.0 L381.5 299.1 L384.6 299.0 L387.7 299.6 L390.7 299.4 L393.8 299.5 L396.9 299.6 L399.9 300.1 L403.0 300.3 L406.1 300.4 L409.2 300.4 L412.2 300.5 L415.3 300.5 L418.4 301.0 L421.4 301.1 L424.5 301.2 L427.5 301.2 L430.5 301.4 L433.6 301.4 L436.6 301.8 L439.6 301.8 L442.6 301.6 L445.7 302.1 L448.7 301.7 L451.7 302.1 L454.8 302.1 L457.8 302.1 L460.8 302.1 L463.9 302.6 L466.9 302.3 L469.9 302.7 L472.9 303.0 L476.0 302.7 L479.0 302.8 L482.0 303.1 L485.1 303.2 L488.2 303.2 L491.2 303.3 L494.3 303.5 L497.4 303.2 L500.4 303.5 L505.4 302.5 L508.9 299.2 L512.4 296.1 L517.4 293.5 L519.4 294.3 L522.9 299.4 L526.4 304.5 L530.8 311.8 L535.1 319.2 L539.5 323.5 L543.9 328.0 L548.3 329.9 L552.6 332.4 L555.7 333.4 L558.8 334.2 L561.8 335.0 L564.9 335.6 L567.9 336.7 L571.4 337.1 L574.9 337.2 L578.4 337.3 L581.9 337.7 L585.4 337.8 L588.9 338.1 L592.4 338.3 L595.9 338.5 L599.4 338.9 L602.9 339.4 L606.2 339.3 L609.5 339.6 L612.8 340.0 L616.1 340.2 L619.4 340.5 L622.6 340.5 L625.8 340.6 L629.0 340.3 L632.2 340.5 L635.4 340.4 L638.6 340.6 L641.7 340.5 L644.9 340.5 M826.1 337.3 L830.8 326.2 L836.3 317.9 L840.0 315.4 L843.7 313.2 L846.8 312.2 L849.9 311.3 L853.0 310.1 L856.3 309.4 L859.5 309.3 L862.8 308.4 L866.0 308.2 L869.1 307.8 L872.2 307.6 L875.2 307.6 L878.3 307.5 L881.4 307.1 L884.4 306.8 L887.6 306.5 L890.8 306.5 L894.0 306.0 L897.2 305.8 L900.4 305.9 L903.5 305.5 L906.7 305.3 L910.0 305.3 L913.3 305.3 L916.6 305.4 L919.9 305.1 L923.2 305.2 L926.5 305.1 L929.8 305.1 L933.0 304.9 L936.3 304.9 L940.0 305.2 L943.7 305.3 L947.4 305.4 L951.1 305.8 L954.4 305.6 L957.6 305.8 L960.9 305.6 L964.1 305.8 L967.3 305.7 L970.5 305.0 L973.6 304.6 L976.8 304.3 L980.0 304.4 L983.2 303.8 L986.3 303.6 L989.9 303.3 L993.4 303.1 L996.9 303.0 L1000.4 303.1 L1003.5 302.9 L1006.6 302.7 L1009.7 302.5 L1012.8 302.3 L1015.9 301.8 L1019.0 301.8 L1022.1 301.5 L1025.1 301.5 L1028.2 301.2 L1031.4 301.0 L1034.5 300.6 L1037.7 299.8 L1040.8 299.9 L1044.0 299.5 L1047.1 299.2 L1050.3 298.4 L1053.4 298.1 L1056.6 297.6 L1059.7 297.5 L1062.7 297.4 L1065.7 298.0 L1068.7 298.2 L1071.7 298.3 L1074.7 298.6 L1077.7 298.7 L1080.7 298.7 L1083.7 299.0 L1086.9 298.8 L1090.1 298.8 L1093.3 299.2 L1096.5 299.0 L1099.7 299.1 L1102.9 299.1 L1106.1 299.0 L1109.3 299.1 L1112.5 299.2 L1115.7 299.4 L1118.9 299.4 L1122.2 299.6 L1125.5 299.8 L1128.8 300.4 L1132.0 300.4 L1135.3 300.9 L1138.6 301.0 L1141.9 301.0 L1145.2 301.5 L1148.4 301.8 L1151.6 301.7 L1154.7 301.9 L1157.8 301.7 L1160.9 301.9 L1164.0 301.8 L1167.1 301.8 L1170.2 301.9 L1173.2 302.5 L1176.3 302.5 L1179.3 303.1 L1182.4 303.1 L1185.4 303.6 L1188.7 303.5 L1192.0 303.7 L1195.2 304.1 L1198.5 304.4 L1201.8 304.1 L1205.0 304.5" stroke="#000" stroke-opacity="0.1" stroke-width="3"/>
<path d="M143.8 341.7 L148.3 326.7 L151.8 319.4 L155.3 312.1 L158.3 308.8 L161.3 305.7 L164.3 304.1 L167.3 302.7 L170.7 301.9 L174.1 301.0 L177.4 300.1 L180.8 299.5 L184.1 299.1 L187.3 298.9 L190.6 299.1 L193.8 298.7 L197.1 298.6 L200.3 298.2 L203.6 298.0 L207.0 298.2 L210.3 297.8 L213.6 297.9 L217.0 297.9 L220.3 297.7 L223.9 297.7 L227.5 297.9 L231.1 297.8 L234.7 297.7 L238.0 296.8 L241.3 295.7 L244.3 296.0 L247.4 295.6 L250.4 296.1 L253.5 296.0 L256.5 295.9 L259.5 296.2 L262.6 296.0 L265.6 296.4 L268.7 296.2 L271.7 296.2 L274.7 296.4 L277.8 296.3 L280.8 296.2 L283.8 296.5 L286.9 296.2 L289.9 296.7 L293.0 296.5 L296.0 296.7 L299.0 296.9 L302.1 296.8 L305.1 296.9 L308.2 296.7 L311.2 296.6 L314.2 296.7 L317.3 296.8 L320.3 297.0 L323.3 297.0 L326.3 296.8 L329.3 296.7 L332.3 296.8 L335.3 296.3 L338.3 296.3 L341.3 296.4 L344.3 296.0 L347.3 296.1 L350.4 296.1 L353.5 296.5 L356.6 296.6 L359.8 297.0 L362.9 297.1 L366.0 297.5 L369.1 297.7 L372.2 297.9 L375.2 297.9 L378.3 298.2 L381.4 298.3 L384.5 298.3 L387.5 298.9 L390.6 298.7 L393.7 298.8 L396.7 298.9 L399.8 299.3 L402.9 299.6 L406.0 299.7 L409.0 299.7 L412.1 299.7 L415.2 299.8 L418.2 300.2 L421.3 300.3 L424.3 300.5 L427.4 300.4 L430.4 300.7 L433.4 300.7 L436.5 301.0 L439.5 301.0 L442.5 300.9 L445.5 301.3 L448.6 301.0 L451.6 301.3 L454.6 301.4 L457.7 301.4 L460.7 301.4 L463.7 301.9 L466.8 301.6 L469.8 301.9 L472.8 302.2 L475.8 301.9 L478.9 302.1 L481.9 302.3 L485.0 302.4 L488.0 302.5 L491.1 302.6 L494.2 302.7 L497.2 302.5 L500.3 302.7 L505.3 301.7 L508.8 298.4 L512.3 295.3 L517.3 292.7 L519.3 293.5 L522.8 298.6 L526.3 303.7 L530.7 311.1 L535.0 318.4 L539.4 322.7 L543.8 327.2 L548.2 329.2 L552.5 331.6 L555.6 332.7 L558.6 333.5 L561.7 334.3 L564.7 334.8 L567.8 335.9 L571.3 336.3 L574.8 336.5 L578.3 336.6 L581.8 336.9 L585.3 337.0 L588.8 337.3 L592.3 337.5 L595.8 337.8 L599.3 338.2 L602.8 338.6 L606.1 338.6 L609.4 338.9 L612.7 339.3 L615.9 339.5 L619.2 339.7 L622.5 339.7 L625.7 339.8 L628.9 339.6 L632.1 339.8 L635.2 339.7 L638.4 339.9 L641.6 339.7 L644.8 339.7 M826.0 336.5 L830.7 325.4 L836.2 317.1 L839.9 314.7 L843.6 312.4 L846.7 311.5 L849.8 310.6 L852.9 309.3 L856.2 308.7 L859.4 308.6 L862.7 307.7 L865.9 307.4 L869.0 307.1 L872.0 306.8 L875.1 306.8 L878.2 306.7 L881.2 306.4 L884.3 306.0 L887.5 305.7 L890.7 305.8 L893.9 305.3 L897.0 305.0 L900.2 305.2 L903.4 304.8 L906.6 304.5 L909.9 304.6 L913.2 304.5 L916.5 304.6 L919.8 304.3 L923.0 304.5 L926.3 304.4 L929.6 304.4 L932.9 304.1 L936.2 304.1 L939.9 304.5 L943.6 304.6 L947.3 304.7 L951.0 305.0 L954.3 304.9 L957.5 305.1 L960.8 304.8 L964.0 305.0 L967.2 304.9 L970.3 304.2 L973.5 303.8 L976.7 303.6 L979.9 303.7 L983.0 303.1 L986.2 302.8 L989.7 302.5 L993.3 302.3 L996.8 302.2 L1000.3 302.3 L1003.4 302.2 L1006.5 302.0 L1009.6 301.8 L1012.7 301.6 L1015.7 301.1 L1018.8 301.1 L1021.9 300.8 L1025.0 300.8 L1028.1 300.4 L1031.3 300.2 L1034.4 299.9 L1037.6 299.1 L1040.7 299.1 L1043.9 298.8 L1047.0 298.4 L1050.2 297.6 L1053.3 297.3 L1056.5 296.9 L1059.6 296.7 L1062.6 296.7 L1065.6 297.3 L1068.6 297.4 L1071.6 297.5 L1074.6 297.8 L1077.6 297.9 L1080.6 297.9 L1083.6 298.2 L1086.8 298.1 L1090.0 298.1 L1093.2 298.5 L1096.4 298.2 L1099.6 298.3 L1102.8 298.4 L1106.0 298.2 L1109.2 298.4 L1112.4 298.4 L1115.6 298.7 L1118.8 298.6 L1122.1 298.8 L1125.4 299.1 L1128.6 299.7 L1131.9 299.7 L1135.2 300.1 L1138.5 300.3 L1141.7 300.3 L1145.0 300.7 L1148.3 301.0 L1151.4 301.0 L1154.5 301.2 L1157.7 300.9 L1160.8 301.1 L1163.9 301.0 L1167.0 301.0 L1170.1 301.2 L1173.1 301.8 L1176.2 301.7 L1179.2 302.4 L1182.3 302.4 L1185.3 302.8 L1188.6 302.7 L1191.8 303.0 L1195.1 303.4 L1198.4 303.7 L1201.6 303.3 L1204.9 303.7" stroke="#000" stroke-opacity="0.1" stroke-width="1.5"/>
<path d="M143.5 340.0 L148.0 325.0 L151.5 317.7 L155.0 310.4 L158.0 307.1 L161.0 304.0 L164.0 302.4 L167.0 301.0 L170.4 300.2 L173.8 299.3 L177.1 298.4 L180.5 297.8 L183.8 297.4 L187.0 297.2 L190.2 297.4 L193.5 297.0 L196.8 296.9 L200.0 296.5 L203.3 296.3 L206.7 296.5 L210.0 296.1 L213.3 296.2 L216.7 296.2 L220.0 296.0 L223.6 295.9 L227.2 296.2 L230.8 296.0 L234.4 296.0 L237.7 295.0 L241.0 294.0 L244.0 294.2 L247.1 293.9 L250.1 294.4 L253.2 294.3 L256.2 294.2 L259.2 294.4 L262.3 294.2 L265.3 294.6 L268.3 294.5 L271.4 294.4 L274.4 294.7 L277.5 294.6 L280.5 294.5 L283.5 294.8 L286.6 294.5 L289.6 295.0 L292.7 294.7 L295.7 295.0 L298.7 295.2 L301.8 295.0 L304.8 295.1 L307.8 295.0 L310.9 294.9 L313.9 295.0 L317.0 295.1 L320.0 295.3 L323.0 295.3 L326.0 295.1 L329.0 295.0 L332.0 295.1 L335.0 294.6 L338.0 294.6 L341.0 294.7 L344.0 294.3 L347.0 294.4 L350.1 294.4 L353.2 294.8 L356.3 294.9 L359.5 295.2 L362.6 295.4 L365.7 295.8 L368.8 296.0 L371.9 296.2 L374.9 296.2 L378.0 296.5 L381.1 296.6 L384.2 296.6 L387.2 297.1 L390.3 296.9 L393.4 297.0 L396.4 297.2 L399.5 297.6 L402.6 297.9 L405.6 298.0 L408.7 297.9 L411.8 298.0 L414.9 298.0 L417.9 298.5 L421.0 298.6 L424.0 298.7 L427.1 298.7 L430.1 299.0 L433.1 299.0 L436.1 299.3 L439.2 299.3 L442.2 299.2 L445.2 299.6 L448.3 299.3 L451.3 299.6 L454.3 299.7 L457.4 299.7 L460.4 299.7 L463.4 300.1 L466.5 299.9 L469.5 300.2 L472.5 300.5 L475.5 300.2 L478.6 300.3 L481.6 300.6 L484.7 300.7 L487.7 300.7 L490.8 300.9 L493.9 301.0 L496.9 300.8 L500.0 301.0 L505.0 300.0 L508.5 296.7 L512.0 293.6 L517.0 291.0 L519.0 291.8 L522.5 296.9 L526.0 302.0 L530.4 309.4 L534.7 316.7 L539.1 321.0 L543.5 325.5 L547.9 327.5 L552.2 329.9 L555.3 331.0 L558.3 331.8 L561.4 332.6 L564.4 333.1 L567.5 334.2 L571.0 334.6 L574.5 334.8 L578.0 334.8 L581.5 335.2 L585.0 335.3 L588.5 335.6 L592.0 335.8 L595.5 336.1 L599.0 336.4 L602.5 336.9 L605.8 336.9 L609.1 337.2 L612.4 337.6 L615.6 337.7 L618.9 338.0 L622.2 338.0 L625.4 338.1 L628.6 337.9 L631.8 338.0 L634.9 338.0 L638.1 338.1 L641.3 338.0 L644.5 338.0 M825.7 334.8 L830.4 323.7 L835.9 315.4 L839.6 312.9 L843.3 310.7 L846.4 309.7 L849.5 308.9 L852.6 307.6 L855.9 307.0 L859.1 306.8 L862.4 305.9 L865.6 305.7 L868.7 305.3 L871.7 305.1 L874.8 305.1 L877.9 305.0 L880.9 304.7 L884.0 304.3 L887.2 304.0 L890.4 304.1 L893.6 303.6 L896.7 303.3 L899.9 303.4 L903.1 303.1 L906.3 302.8 L909.6 302.9 L912.9 302.8 L916.2 302.9 L919.5 302.6 L922.7 302.7 L926.0 302.6 L929.3 302.7 L932.6 302.4 L935.9 302.4 L939.6 302.7 L943.3 302.9 L947.0 303.0 L950.7 303.3 L954.0 303.2 L957.2 303.4 L960.5 303.1 L963.7 303.3 L966.9 303.2 L970.0 302.5 L973.2 302.1 L976.4 301.8 L979.6 301.9 L982.7 301.3 L985.9 301.1 L989.4 300.8 L993.0 300.6 L996.5 300.5 L1000.0 300.6 L1003.1 300.5 L1006.2 300.2 L1009.3 300.1 L1012.4 299.9 L1015.4 299.3 L1018.5 299.4 L1021.6 299.1 L1024.7 299.1 L1027.8 298.7 L1031.0 298.5 L1034.1 298.2 L1037.2 297.4 L1040.4 297.4 L1043.5 297.1 L1046.7 296.7 L1049.8 295.9 L1053.0 295.6 L1056.1 295.2 L1059.3 295.0 L1062.3 295.0 L1065.3 295.5 L1068.3 295.7 L1071.3 295.8 L1074.3 296.1 L1077.3 296.2 L1080.3 296.2 L1083.3 296.5 L1086.5 296.3 L1089.7 296.4 L1092.9 296.7 L1096.1 296.5 L1099.3 296.6 L1102.5 296.7 L1105.7 296.5 L1108.9 296.7 L1112.1 296.7 L1115.3 297.0 L1118.5 296.9 L1121.8 297.1 L1125.1 297.3 L1128.3 297.9 L1131.6 298.0 L1134.9 298.4 L1138.2 298.6 L1141.4 298.5 L1144.7 299.0 L1148.0 299.3 L1151.1 299.3 L1154.2 299.4 L1157.3 299.2 L1160.5 299.4 L1163.6 299.3 L1166.7 299.3 L1169.8 299.5 L1172.8 300.1 L1175.8 300.0 L1178.9 300.7 L1182.0 300.6 L1185.0 301.1 L1188.3 301.0 L1191.5 301.3 L1194.8 301.7 L1198.1 301.9 L1201.3 301.6 L1204.6 302.0" stroke="#a23c3c" stroke-width="2"/>
<path d="M143.9 360.5 L155.4 351.5 L167.4 343.2 L180.4 339.5 L192.4 337.3 L220.4 336.1 L225.4 336.7 L232.4 335.5 L237.4 335.1 L240.4 335.9 L245.4 335.6 L406.3 335.6 L407.9 336.8 L429.8 337.3 L436.4 338.5 L480.4 338.3 L514.0 338.2 L522.0 337.8 L529.6 344.4 L535.1 347.7 L542.8 354.3 L548.2 357.1 L550.4 359.1 L557.0 359.7 L562.4 362.3 L581.1 362.5 L585.4 365.2 L589.8 365.8 L644.9 365.8 M826.1 366.0 L830.8 361.4 L834.4 355.8 L840.0 351.2 L849.3 347.5 L852.1 345.3 L862.3 344.7 L867.8 341.9 L888.2 341.4 L891.9 339.5 L901.1 337.3 L993.7 337.3 L997.4 336.4 L1003.0 335.8 L1006.0 335.5 L1037.4 335.5 L1049.4 331.4 L1133.7 331.4 L1143.0 333.6 L1144.9 333.1 L1146.9 334.1 L1154.1 335.1 L1193.0 335.1 L1205.0 336.9" stroke="#000" stroke-opacity="0.1" stroke-width="3"/>
<path d="M143.8 359.7 L155.3 350.7 L167.3 342.4 L180.3 338.7 L192.3 336.5 L220.3 335.3 L225.3 335.9 L232.3 334.7 L237.3 334.3 L240.3 335.1 L245.3 334.8 L406.2 334.8 L407.8 336.0 L429.7 336.5 L436.3 337.7 L480.3 337.5 L513.9 337.4 L521.9 337.0 L529.5 343.6 L535.0 346.9 L542.7 353.5 L548.1 356.3 L550.3 358.3 L556.9 358.9 L562.3 361.5 L581.0 361.7 L585.3 364.4 L589.7 365.0 L644.8 365.0 M826.0 365.2 L830.7 360.6 L834.3 355.0 L839.9 350.4 L849.2 346.7 L852.0 344.5 L862.2 343.9 L867.7 341.1 L888.1 340.6 L891.8 338.7 L901.0 336.5 L993.6 336.5 L997.3 335.6 L1002.9 335.0 L1005.9 334.7 L1037.3 334.7 L1049.3 330.6 L1133.6 330.6 L1142.9 332.8 L1144.8 332.3 L1146.8 333.3 L1154.0 334.3 L1192.9 334.3 L1204.9 336.1" stroke="#000" stroke-opacity="0.1" stroke-width="1.5"/>
<path d="M143.5 358.0 L155.0 349.0 L167.0 340.7 L180.0 337.0 L192.0 334.8 L220.0 333.6 L225.0 334.2 L232.0 333.0 L237.0 332.6 L240.0 333.4 L245.0 333.1 L405.9 333.1 L407.5 334.3 L429.4 334.8 L436.0 336.0 L480.0 335.8 L513.6 335.7 L521.6 335.3 L529.2 341.9 L534.7 345.2 L542.4 351.8 L547.8 354.6 L550.0 356.6 L556.6 357.2 L562.0 359.8 L580.7 360.0 L585.0 362.7 L589.4 363.3 L644.5 363.3 M825.7 363.5 L830.4 358.9 L834.0 353.3 L839.6 348.7 L848.9 345.0 L851.7 342.8 L861.9 342.2 L867.4 339.4 L887.8 338.9 L891.5 337.0 L900.7 334.8 L993.3 334.8 L997.0 333.9 L1002.6 333.3 L1005.6 333.0 L1037.0 333.0 L1049.0 328.9 L1133.3 328.9 L1142.6 331.1 L1144.5 330.6 L1146.5 331.6 L1153.7 332.6 L1192.6 332.6 L1204.6 334.4" stroke="#3d853d" stroke-width="2"/>
<path d="M143.9 361.5 L165.8 361.5 L167.4 328.2 L644.9 328.4 M826.1 361.4 L829.8 359.0 L1205.0 359.0" stroke="#000" stroke-opacity="0.1" stroke-width="3"/>
<path d="M143.8 360.7 L165.7 360.7 L167.3 327.4 L644.8 327.6 M826.0 360.6 L829.7 358.2 L1204.9 358.2" stroke="#000" stroke-opacity="0.1" stroke-width="1.5"/>
<path d="M143.5 359.0 L165.4 359.0 L167.0 325.7 L644.5 325.9 M825.7 358.9 L829.4 356.5 L1204.6 356.5" stroke="#7633bd" stroke-width="2"/>
<path d="M143.9 355.0 L150.4 345.5 L160.4 335.5 L170.4 329.5 L180.4 325.0 L192.7 321.7 L376.8 321.7 L379.4 324.4 L488.8 324.7 L490.9 328.0 L514.3 328.0 L517.6 324.7 L526.4 324.7 L529.6 328.0 L534.0 329.1 L540.6 334.5 L543.9 335.7 L546.0 341.1 L550.4 341.5 L553.7 345.5 L559.2 345.5 L564.6 352.1 L569.0 352.1 L572.3 348.8 L576.7 348.8 L580.0 352.1 L585.4 352.1 L588.7 348.8 L607.3 348.8 L635.8 349.9 L641.2 358.6 L644.9 359.1 M826.1 358.6 L830.8 354.9 L836.3 351.2 L839.1 348.4 L1010.4 348.6 L1205.0 348.4" stroke="#000" stroke-opacity="0.1" stroke-width="3"/>
<path d="M143.8 354.2 L150.3 344.7 L160.3 334.7 L170.3 328.7 L180.3 324.2 L192.6 320.9 L376.7 320.9 L379.3 323.6 L488.7 323.9 L490.8 327.2 L514.2 327.2 L517.5 323.9 L526.3 323.9 L529.5 327.2 L533.9 328.3 L540.5 333.7 L543.8 334.9 L545.9 340.3 L550.3 340.7 L553.6 344.7 L559.1 344.7 L564.5 351.3 L568.9 351.3 L572.2 348.0 L576.6 348.0 L579.9 351.3 L585.3 351.3 L588.6 348.0 L607.2 348.0 L635.7 349.1 L641.1 357.8 L644.8 358.3 M826.0 357.8 L830.7 354.1 L836.2 350.4 L839.0 347.6 L1010.3 347.8 L1204.9 347.6" stroke="#000" stroke-opacity="0.1" stroke-width="1.5"/>
<path d="M143.5 352.5 L150.0 343.0 L160.0 333.0 L170.0 327.0 L180.0 322.5 L192.3 319.2 L376.4 319.2 L379.0 321.9 L488.4 322.2 L490.5 325.5 L513.9 325.5 L517.2 322.2 L526.0 322.2 L529.2 325.5 L533.6 326.6 L540.2 332.0 L543.5 333.2 L545.6 338.6 L550.0 339.0 L553.3 343.0 L558.8 343.0 L564.2 349.6 L568.6 349.6 L571.9 346.3 L576.3 346.3 L579.6 349.6 L585.0 349.6 L588.3 346.3 L606.9 346.3 L635.4 347.4 L640.8 356.1 L644.5 356.6 M825.7 356.1 L830.4 352.4 L835.9 348.7 L838.7 345.9 L1010.0 346.1 L1204.6 345.9" stroke="#ffe84c" stroke-width="2"/>
<path d="M143.9 344.5 L147.4 332.5 L152.4 318.5 L158.4 307.5 L164.4 302.0 L177.4 299.4 L200.4 298.1 L220.4 297.8 L240.4 297.0 L248.2 293.5 L251.6 290.2 L255.0 293.5 L258.4 290.2 L261.7 293.5 L265.1 290.2 L315.4 290.7 L322.4 290.2 L325.7 294.4 L369.2 294.0 L372.4 296.9 L463.4 297.8 L466.9 300.3 L505.4 300.8 L512.4 297.5 L517.4 294.4 L519.4 296.3 L530.7 313.8 L541.7 328.0 L550.4 328.6 L555.9 336.7 L562.4 337.5 L565.7 334.5 L572.3 342.2 L585.4 336.7 L589.8 337.5 L594.2 342.2 L598.6 345.5 L607.3 346.6 L610.6 348.8 L644.9 348.8 M826.1 348.4 L829.8 342.9 L833.5 331.8 L839.1 325.3 L867.8 325.3 L870.6 322.1 L896.5 321.6 L900.2 317.9 L995.6 317.9 L999.3 315.5 L1010.4 315.1 L1041.1 315.1 L1044.8 311.8 L1150.4 311.8 L1154.1 314.7 L1201.4 315.1 L1205.0 318.8" stroke="#000" stroke-opacity="0.1" stroke-width="3"/>
<path d="M143.8 343.7 L147.3 331.7 L152.3 317.7 L158.3 306.7 L164.3 301.2 L177.3 298.6 L200.3 297.3 L220.3 297.0 L240.3 296.2 L248.1 292.7 L251.5 289.4 L254.9 292.7 L258.3 289.4 L261.6 292.7 L265.0 289.4 L315.3 289.9 L322.3 289.4 L325.6 293.6 L369.1 293.2 L372.3 296.1 L463.3 297.0 L466.8 299.5 L505.3 300.0 L512.3 296.7 L517.3 293.6 L519.3 295.5 L530.6 313.0 L541.6 327.2 L550.3 327.8 L555.8 335.9 L562.3 336.7 L565.6 333.7 L572.2 341.4 L585.3 335.9 L589.7 336.7 L594.1 341.4 L598.5 344.7 L607.2 345.8 L610.5 348.0 L644.8 348.0 M826.0 347.6 L829.7 342.1 L833.4 331.0 L839.0 324.5 L867.7 324.5 L870.5 321.3 L896.4 320.8 L900.1 317.1 L995.5 317.1 L999.2 314.7 L1010.3 314.3 L1041.0 314.3 L1044.7 311.0 L1150.3 311.0 L1154.0 313.9 L1201.3 314.3 L1204.9 318.0" stroke="#000" stroke-opacity="0.1" stroke-width="1.5"/>
<path d="M143.5 342.0 L147.0 330.0 L152.0 316.0 L158.0 305.0 L164.0 299.5 L177.0 296.9 L200.0 295.6 L220.0 295.3 L240.0 294.5 L247.8 291.0 L251.2 287.7 L254.6 291.0 L258.0 287.7 L261.3 291.0 L264.7 287.7 L315.0 288.2 L322.0 287.7 L325.3 291.9 L368.8 291.5 L372.0 294.4 L463.0 295.3 L466.5 297.8 L505.0 298.3 L512.0 295.0 L517.0 291.9 L519.0 293.8 L530.3 311.3 L541.3 325.5 L550.0 326.1 L555.5 334.2 L562.0 335.0 L565.3 332.0 L571.9 339.7 L585.0 334.2 L589.4 335.0 L593.8 339.7 L598.2 343.0 L606.9 344.1 L610.2 346.3 L644.5 346.3 M825.7 345.9 L829.4 340.4 L833.1 329.3 L838.7 322.8 L867.4 322.8 L870.2 319.6 L896.1 319.1 L899.8 315.4 L995.2 315.4 L998.9 313.0 L1010.0 312.6 L1040.7 312.6 L1044.4 309.3 L1150.0 309.3 L1153.7 312.2 L1201.0 312.6 L1204.6 316.3" stroke="#d2ffff" stroke-width="2"/>
</g>
<rect x="55" y="50" width="1153.5" height="413.5" fill="none" stroke="#545454" stroke-width="2"/>
<g font-family="'DejaVu Sans Condensed','Liberation Sans',sans-serif" font-size="9.35" fill="#545454">
<text x="47.2" y="468.2" text-anchor="end" font-size="9.6">0 °C</text>
<text x="47.2" y="399.3" text-anchor="end" font-size="9.6">20 °C</text>
<text x="47.2" y="330.4" text-anchor="end" font-size="9.6">40 °C</text>
<text x="47.2" y="261.4" text-anchor="end" font-size="9.6">60 °C</text>
<text x="47.2" y="192.5" text-anchor="end" font-size="9.6">80 °C</text>
<text x="47.2" y="123.6" text-anchor="end" font-size="9.6">100 °C</text>
<text x="47.2" y="54.7" text-anchor="end" font-size="9.6">120 °C</text>
<text x="1222" y="468.4">0 RPM</text>
<text x="1222" y="427.0">500 RPM</text>
<text x="1222" y="385.7">1000 RPM</text>
<text x="1222" y="344.3">1500 RPM</text>
<text x="1222" y="303.0">2000 RPM</text>
<text x="1222" y="261.6">2500 RPM</text>
<text x="1222" y="220.3">3000 RPM</text>
<text x="1222" y="179.0">3500 RPM</text>
<text x="1222" y="137.6">4000 RPM</text>
<text x="1222" y="96.3">4500 RPM</text>
<text x="1222" y="54.9">5000 RPM</text>
<text x="98.7" y="482.2" text-anchor="middle">18:00</text>
<text x="194.63" y="482.2" text-anchor="middle">20:00</text>
<text x="290.56" y="482.2" text-anchor="middle">22:00</text>
<text x="386.49" y="482.2" text-anchor="middle">00:00</text>
<text x="482.42" y="482.2" text-anchor="middle">02:00</text>
<text x="578.35" y="482.2" text-anchor="middle">04:00</text>
<text x="674.28" y="482.2" text-anchor="middle">06:00</text>
<text x="770.21" y="482.2" text-anchor="middle">08:00</text>
<text x="866.14" y="482.2" text-anchor="middle">10:00</text>
<text x="962.07" y="482.2" text-anchor="middle">12:00</text>
<text x="1058" y="482.2" text-anchor="middle">14:00</text>
<text x="1153.93" y="482.2" text-anchor="middle">16:00</text>
</g>
<g font-family="'DejaVu Sans Condensed','Liberation Sans',sans-serif" font-size="11.4" fill="#222">
<text transform="translate(14.5,263.5) rotate(-90)" text-anchor="middle">Température °C</text>
<text transform="translate(1267,263.5) rotate(90)" text-anchor="middle">Tours par minute</text>
</g>
</svg>
<div id="legend" class="abs"><table>
<tr><td class="lc"><div class="sw"><div style="background:#edc240"></div></div></td><td class="ll">Ventilateur 2</td></tr>
<tr><td class="lc"><div class="sw"><div style="background:#afd8f8"></div></div></td><td class="ll">Ventilateur 1</td></tr>
<tr><td class="lc"><div class="sw"><div style="background:#cb4b4b"></div></div></td><td class="ll">Température CPU CP Slave</td></tr>
<tr><td class="lc"><div class="sw"><div style="background:#4da74d"></div></div></td><td class="ll">Température CPU CP Master</td></tr>
<tr><td class="lc"><div class="sw"><div style="background:#9440ed"></div></div></td><td class="ll">Température CPU AP</td></tr>
<tr><td class="lc"><div class="sw"><div style="background:#bd9b33"></div></div></td><td class="ll">Température 3</td></tr>
<tr><td class="lc"><div class="sw"><div style="background:#8cacc6"></div></div></td><td class="ll">Température 2</td></tr>
<tr><td class="lc"><div class="sw"><div style="background:#a23c3c"></div></div></td><td class="ll">Température 1</td></tr>
<tr><td class="lc"><div class="sw"><div style="background:#3d853d"></div></div></td><td class="ll">Disque dur 4</td></tr>
<tr><td class="lc"><div class="sw"><div style="background:#7633bd"></div></div></td><td class="ll">Disque dur 3</td></tr>
<tr><td class="lc"><div class="sw"><div style="background:#ffe84c"></div></div></td><td class="ll">Disque dur 2</td></tr>
<tr><td class="lc"><div class="sw"><div style="background:#d2ffff"></div></div></td><td class="ll">Disque dur 1</td></tr>
</table></div>
<div id="tip" class="abs">Disque dur 1: 48 °C</div>
<div class="btn" style="left:977.5px">Heure</div>
<div class="btn" style="left:1054.5px">Jour</div>
<div class="btn" style="left:1131.5px">Semaine</div>
<div class="btn" style="left:1208.5px">Mois</div>
<div id="ok" class="abs"><svg class="abs" style="left:1px;top:1px" width="17" height="17" viewBox="0 0 17 17"><circle cx="8.5" cy="8.5" r="7.2" fill="#8cc80e" stroke="#74a80c" stroke-width="1"/><path d="M4.8 8.8 L7.4 11.2 L12.2 5.8" stroke="#fff" stroke-width="2.2" fill="none" stroke-linecap="round" stroke-linejoin="round"/></svg><span class="abs" style="left:36px;top:0">OK</span></div>
<div class="abs" style="left:0;top:545px;width:1280px;height:5px;background:#383838"></div>
<div id="sep" class="abs"></div>
<div id="taskbar" class="abs"></div>
<div id="start" class="abs"></div>
<div id="pill" class="abs"></div>
<div id="free" class="abs">free</div>
<div id="task" class="abs"></div>
<svg class="abs" style="left:112px;top:563px" width="24" height="24" viewBox="0 0 24 24"><defs><linearGradient id="gi" x1="0" y1="0" x2="1" y2="1"><stop offset="0" stop-color="#3cb43c"/><stop offset="1" stop-color="#068806"/></linearGradient></defs><rect x="0.75" y="0.75" width="21.5" height="22" fill="url(#gi)" stroke="#b4b4b4" stroke-width="1.5"/><path d="M2.8 13.6 H7.5 L11.4 4.2 L13 17.5 L15.3 12.8 L17 13.6 H20.8" stroke="#86ff86" stroke-width="1.2" fill="none" stroke-linejoin="round"/><path d="M2.5 13.6 H21" stroke="#5fd35f" stroke-width="0.6" fill="none"/></svg>
<div id="tasktxt" class="abs">État de la Freebox</div>
<svg class="abs" style="left:1082px;top:560px" width="32" height="28" viewBox="0 0 32 28"><g fill="none" stroke="#12a0f6" stroke-linecap="round" stroke-width="3.6"><path d="M3.1 8.5 A19.4 19.4 0 0 1 27 8.5"/><path d="M6.8 14.2 A12.5 12.5 0 0 1 22.8 14.2"/><path d="M10.6 19.6 A5.9 5.9 0 0 1 19 19.6"/></g><circle cx="14.8" cy="23.7" r="2.4" fill="#12a0f6"/></svg>
<svg class="abs" style="left:1125px;top:561px" width="30" height="26" viewBox="0 0 30 26"><g fill="none" stroke="#5f5f5f" stroke-width="1.3" stroke-linejoin="round"><path d="M10.9 8 Q19 6 25.4 1.4 V20.2 Q19 15.5 10.9 14 Z"/><path d="M27.1 8.3 V12.8"/><path d="M10.9 14.3 Q12.4 18 12.3 23"/></g><path d="M1.3 7.4 H10.9 V14 H9.4 L9.6 23.6 H5.6 L5.4 14 H2.8 Q1.3 14 1.3 12.5 Z" fill="#5f5f5f"/></svg>
<svg class="abs" style="left:1162px;top:566px" width="32" height="18" viewBox="0 0 32 18"><g stroke="#12a0f6" stroke-width="2.5" fill="none" stroke-linecap="round" stroke-linejoin="round"><path d="M3.4 9.3 H25"/><path d="M8.5 9.3 C12 9.3 11.5 4 15 4 H18.6"/><path d="M12.5 9.3 C16 9.3 15.5 14.6 19 14.6"/></g><circle cx="3.4" cy="9.3" r="3.5" fill="#12a0f6"/><circle cx="18.6" cy="4" r="2.5" fill="#12a0f6"/><rect x="18.6" y="12.8" width="4.3" height="4.2" fill="#12a0f6"/><path d="M24.2 6 L30.9 9.3 L24.2 12.6 Z" fill="#12a0f6"/></svg>
<div id="clock" class="abs">17:07</div>
</body>
</html>
